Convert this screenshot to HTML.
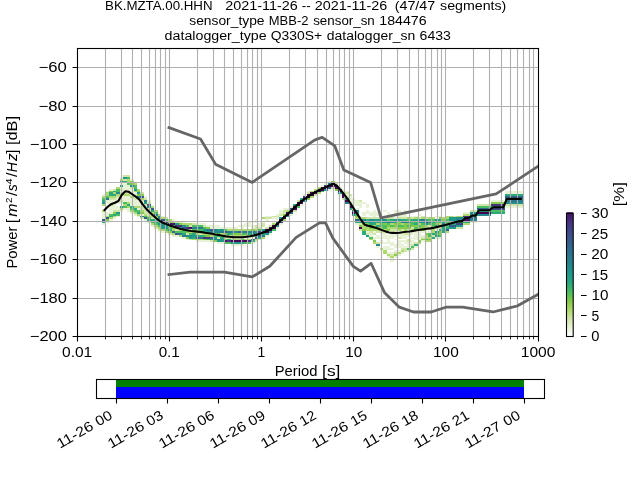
<!DOCTYPE html>
<html><head><meta charset="utf-8"><title>PPSD</title>
<style>html,body{margin:0;padding:0;background:#fff;}body{width:640px;height:480px;overflow:hidden;font-family:"Liberation Sans",sans-serif;}svg{display:block;will-change:transform;}</style>
</head><body>
<svg width="640" height="480" viewBox="0 0 640 480" font-family="'Liberation Sans', sans-serif" font-size="13.89px" fill="#000">
<rect x="0" y="0" width="640" height="480" fill="#fff"/>
<defs><clipPath id="ca"><rect x="77.5" y="48.5" width="461" height="288"/></clipPath></defs>
<g shape-rendering="crispEdges" clip-path="url(#ca)">
<rect x="102" y="194" width="4" height="2" fill="#e8f2d7"/>
<rect x="102" y="196" width="4" height="2" fill="#aed96f"/>
<rect x="102" y="198" width="4" height="2" fill="#4bbe60"/>
<rect x="102" y="200" width="4" height="2" fill="#2aa97d"/>
<rect x="102" y="202" width="4" height="2" fill="#1f9a8a"/>
<rect x="102" y="204" width="4" height="2" fill="#aed96f"/>
<rect x="102" y="210" width="4" height="2" fill="#aed96f"/>
<rect x="102" y="212" width="4" height="2" fill="#e8f2d7"/>
<rect x="102" y="214" width="4" height="2" fill="#e8f2d7"/>
<rect x="102" y="216" width="4" height="1" fill="#e8f2d7"/>
<rect x="102" y="217" width="4" height="2" fill="#e8f2d7"/>
<rect x="102" y="219" width="4" height="2" fill="#39598c"/>
<rect x="102" y="221" width="4" height="2" fill="#2aa97d"/>
<rect x="102" y="223" width="4" height="2" fill="#e8f2d7"/>
<rect x="106" y="191" width="3" height="1" fill="#e8f2d7"/>
<rect x="106" y="192" width="3" height="2" fill="#aed96f"/>
<rect x="106" y="194" width="3" height="2" fill="#aed96f"/>
<rect x="106" y="196" width="3" height="2" fill="#4bbe60"/>
<rect x="106" y="198" width="3" height="2" fill="#2a7a8e"/>
<rect x="106" y="200" width="3" height="2" fill="#e8f2d7"/>
<rect x="106" y="202" width="3" height="2" fill="#e8f2d7"/>
<rect x="106" y="206" width="3" height="2" fill="#e8f2d7"/>
<rect x="106" y="212" width="3" height="2" fill="#e8f2d7"/>
<rect x="106" y="214" width="3" height="2" fill="#e8f2d7"/>
<rect x="106" y="216" width="3" height="1" fill="#aed96f"/>
<rect x="106" y="217" width="3" height="2" fill="#39598c"/>
<rect x="106" y="219" width="3" height="2" fill="#84cb47"/>
<rect x="106" y="221" width="3" height="2" fill="#e8f2d7"/>
<rect x="109" y="189" width="4" height="2" fill="#e8f2d7"/>
<rect x="109" y="191" width="4" height="1" fill="#84cb47"/>
<rect x="109" y="192" width="4" height="2" fill="#2aa97d"/>
<rect x="109" y="194" width="4" height="2" fill="#2aa97d"/>
<rect x="109" y="196" width="4" height="2" fill="#aed96f"/>
<rect x="109" y="198" width="4" height="2" fill="#d0e5a7"/>
<rect x="109" y="200" width="4" height="2" fill="#e8f2d7"/>
<rect x="109" y="202" width="4" height="2" fill="#e8f2d7"/>
<rect x="109" y="204" width="4" height="2" fill="#aed96f"/>
<rect x="109" y="206" width="4" height="2" fill="#e8f2d7"/>
<rect x="109" y="208" width="4" height="2" fill="#e8f2d7"/>
<rect x="109" y="210" width="4" height="2" fill="#e8f2d7"/>
<rect x="109" y="212" width="4" height="2" fill="#e8f2d7"/>
<rect x="109" y="214" width="4" height="2" fill="#4bbe60"/>
<rect x="109" y="216" width="4" height="1" fill="#2aa97d"/>
<rect x="109" y="217" width="4" height="2" fill="#aed96f"/>
<rect x="109" y="219" width="4" height="2" fill="#e8f2d7"/>
<rect x="113" y="189" width="3" height="2" fill="#d0e5a7"/>
<rect x="113" y="191" width="3" height="1" fill="#2aa97d"/>
<rect x="113" y="192" width="3" height="2" fill="#aed96f"/>
<rect x="113" y="194" width="3" height="2" fill="#2aa97d"/>
<rect x="113" y="196" width="3" height="2" fill="#aed96f"/>
<rect x="113" y="198" width="3" height="2" fill="#d0e5a7"/>
<rect x="113" y="200" width="3" height="2" fill="#e8f2d7"/>
<rect x="113" y="202" width="3" height="2" fill="#e8f2d7"/>
<rect x="113" y="204" width="3" height="2" fill="#e8f2d7"/>
<rect x="113" y="206" width="3" height="2" fill="#e8f2d7"/>
<rect x="113" y="208" width="3" height="2" fill="#e8f2d7"/>
<rect x="113" y="210" width="3" height="2" fill="#d0e5a7"/>
<rect x="113" y="212" width="3" height="2" fill="#84cb47"/>
<rect x="113" y="214" width="3" height="2" fill="#2aa97d"/>
<rect x="113" y="216" width="3" height="1" fill="#aed96f"/>
<rect x="113" y="217" width="3" height="2" fill="#e8f2d7"/>
<rect x="116" y="187" width="4" height="2" fill="#aed96f"/>
<rect x="116" y="189" width="4" height="2" fill="#4bbe60"/>
<rect x="116" y="191" width="4" height="1" fill="#4bbe60"/>
<rect x="116" y="192" width="4" height="2" fill="#238a8d"/>
<rect x="116" y="194" width="4" height="2" fill="#aed96f"/>
<rect x="116" y="196" width="4" height="2" fill="#d0e5a7"/>
<rect x="116" y="198" width="4" height="2" fill="#e8f2d7"/>
<rect x="116" y="200" width="4" height="2" fill="#e8f2d7"/>
<rect x="116" y="202" width="4" height="2" fill="#e8f2d7"/>
<rect x="116" y="206" width="4" height="2" fill="#e8f2d7"/>
<rect x="116" y="208" width="4" height="2" fill="#e8f2d7"/>
<rect x="116" y="210" width="4" height="2" fill="#d0e5a7"/>
<rect x="116" y="212" width="4" height="2" fill="#1f9a8a"/>
<rect x="116" y="214" width="4" height="2" fill="#4bbe60"/>
<rect x="116" y="216" width="4" height="1" fill="#e8f2d7"/>
<rect x="120" y="177" width="3" height="2" fill="#e8f2d7"/>
<rect x="120" y="179" width="3" height="2" fill="#aed96f"/>
<rect x="120" y="181" width="3" height="2" fill="#1f9a8a"/>
<rect x="120" y="183" width="3" height="2" fill="#e8f2d7"/>
<rect x="120" y="185" width="3" height="2" fill="#1f9a8a"/>
<rect x="120" y="187" width="3" height="2" fill="#e8f2d7"/>
<rect x="120" y="189" width="3" height="2" fill="#d0e5a7"/>
<rect x="120" y="191" width="3" height="1" fill="#e8f2d7"/>
<rect x="120" y="192" width="3" height="2" fill="#d0e5a7"/>
<rect x="120" y="194" width="3" height="2" fill="#aed96f"/>
<rect x="120" y="196" width="3" height="2" fill="#e8f2d7"/>
<rect x="120" y="198" width="3" height="2" fill="#e8f2d7"/>
<rect x="120" y="200" width="3" height="2" fill="#d0e5a7"/>
<rect x="120" y="202" width="3" height="2" fill="#e8f2d7"/>
<rect x="120" y="206" width="3" height="2" fill="#1f9a8a"/>
<rect x="120" y="208" width="3" height="2" fill="#aed96f"/>
<rect x="120" y="210" width="3" height="2" fill="#e8f2d7"/>
<rect x="123" y="175" width="4" height="2" fill="#d0e5a7"/>
<rect x="123" y="177" width="4" height="2" fill="#1f9a8a"/>
<rect x="123" y="179" width="4" height="2" fill="#d0e5a7"/>
<rect x="123" y="181" width="4" height="2" fill="#2aa97d"/>
<rect x="123" y="183" width="4" height="2" fill="#e8f2d7"/>
<rect x="123" y="185" width="4" height="2" fill="#e8f2d7"/>
<rect x="123" y="187" width="4" height="2" fill="#e8f2d7"/>
<rect x="123" y="189" width="4" height="2" fill="#e8f2d7"/>
<rect x="123" y="191" width="4" height="1" fill="#e8f2d7"/>
<rect x="123" y="192" width="4" height="2" fill="#d0e5a7"/>
<rect x="123" y="194" width="4" height="2" fill="#aed96f"/>
<rect x="123" y="196" width="4" height="2" fill="#e8f2d7"/>
<rect x="123" y="198" width="4" height="2" fill="#e8f2d7"/>
<rect x="123" y="200" width="4" height="2" fill="#e8f2d7"/>
<rect x="123" y="202" width="4" height="2" fill="#4bbe60"/>
<rect x="123" y="204" width="4" height="2" fill="#aed96f"/>
<rect x="123" y="206" width="4" height="2" fill="#4bbe60"/>
<rect x="123" y="208" width="4" height="2" fill="#e8f2d7"/>
<rect x="127" y="175" width="3" height="2" fill="#d0e5a7"/>
<rect x="127" y="177" width="3" height="2" fill="#4bbe60"/>
<rect x="127" y="179" width="3" height="2" fill="#aed96f"/>
<rect x="127" y="181" width="3" height="2" fill="#aed96f"/>
<rect x="127" y="183" width="3" height="2" fill="#4bbe60"/>
<rect x="127" y="185" width="3" height="2" fill="#e8f2d7"/>
<rect x="127" y="187" width="3" height="2" fill="#e8f2d7"/>
<rect x="127" y="189" width="3" height="2" fill="#e8f2d7"/>
<rect x="127" y="191" width="3" height="1" fill="#e8f2d7"/>
<rect x="127" y="192" width="3" height="2" fill="#d0e5a7"/>
<rect x="127" y="194" width="3" height="2" fill="#aed96f"/>
<rect x="127" y="196" width="3" height="2" fill="#e8f2d7"/>
<rect x="127" y="198" width="3" height="2" fill="#e8f2d7"/>
<rect x="127" y="200" width="3" height="2" fill="#e8f2d7"/>
<rect x="127" y="202" width="3" height="2" fill="#aed96f"/>
<rect x="127" y="204" width="3" height="2" fill="#2aa97d"/>
<rect x="127" y="206" width="3" height="2" fill="#aed96f"/>
<rect x="127" y="208" width="3" height="2" fill="#e8f2d7"/>
<rect x="127" y="210" width="3" height="2" fill="#e8f2d7"/>
<rect x="130" y="179" width="4" height="2" fill="#e8f2d7"/>
<rect x="130" y="181" width="4" height="2" fill="#84cb47"/>
<rect x="130" y="183" width="4" height="2" fill="#84cb47"/>
<rect x="130" y="185" width="4" height="2" fill="#238a8d"/>
<rect x="130" y="187" width="4" height="2" fill="#d0e5a7"/>
<rect x="130" y="189" width="4" height="2" fill="#e8f2d7"/>
<rect x="130" y="191" width="4" height="1" fill="#e8f2d7"/>
<rect x="130" y="192" width="4" height="2" fill="#e8f2d7"/>
<rect x="130" y="194" width="4" height="2" fill="#e8f2d7"/>
<rect x="130" y="196" width="4" height="2" fill="#aed96f"/>
<rect x="130" y="198" width="4" height="2" fill="#e8f2d7"/>
<rect x="130" y="200" width="4" height="2" fill="#e8f2d7"/>
<rect x="130" y="202" width="4" height="2" fill="#e8f2d7"/>
<rect x="130" y="204" width="4" height="2" fill="#e8f2d7"/>
<rect x="130" y="206" width="4" height="2" fill="#2aa97d"/>
<rect x="130" y="208" width="4" height="2" fill="#4bbe60"/>
<rect x="130" y="210" width="4" height="2" fill="#aed96f"/>
<rect x="130" y="212" width="4" height="2" fill="#e8f2d7"/>
<rect x="134" y="183" width="3" height="2" fill="#aed96f"/>
<rect x="134" y="185" width="3" height="2" fill="#4bbe60"/>
<rect x="134" y="187" width="3" height="2" fill="#4bbe60"/>
<rect x="134" y="189" width="3" height="2" fill="#1f9a8a"/>
<rect x="134" y="191" width="3" height="1" fill="#aed96f"/>
<rect x="134" y="192" width="3" height="2" fill="#e8f2d7"/>
<rect x="134" y="194" width="3" height="2" fill="#e8f2d7"/>
<rect x="134" y="196" width="3" height="2" fill="#e8f2d7"/>
<rect x="134" y="198" width="3" height="2" fill="#d0e5a7"/>
<rect x="134" y="200" width="3" height="2" fill="#e8f2d7"/>
<rect x="134" y="202" width="3" height="2" fill="#e8f2d7"/>
<rect x="134" y="204" width="3" height="2" fill="#e8f2d7"/>
<rect x="134" y="206" width="3" height="2" fill="#aed96f"/>
<rect x="134" y="208" width="3" height="2" fill="#2aa97d"/>
<rect x="134" y="210" width="3" height="2" fill="#4bbe60"/>
<rect x="134" y="212" width="3" height="2" fill="#aed96f"/>
<rect x="134" y="214" width="3" height="2" fill="#e8f2d7"/>
<rect x="137" y="189" width="3" height="2" fill="#aed96f"/>
<rect x="137" y="191" width="3" height="1" fill="#84cb47"/>
<rect x="137" y="192" width="3" height="2" fill="#1f9a8a"/>
<rect x="137" y="194" width="3" height="2" fill="#84cb47"/>
<rect x="137" y="196" width="3" height="2" fill="#238a8d"/>
<rect x="137" y="198" width="3" height="2" fill="#d0e5a7"/>
<rect x="137" y="200" width="3" height="2" fill="#e8f2d7"/>
<rect x="137" y="202" width="3" height="2" fill="#e8f2d7"/>
<rect x="137" y="204" width="3" height="2" fill="#e8f2d7"/>
<rect x="137" y="206" width="3" height="2" fill="#aed96f"/>
<rect x="137" y="208" width="3" height="2" fill="#e8f2d7"/>
<rect x="137" y="210" width="3" height="2" fill="#4bbe60"/>
<rect x="137" y="212" width="3" height="2" fill="#2aa97d"/>
<rect x="137" y="214" width="3" height="2" fill="#aed96f"/>
<rect x="137" y="216" width="3" height="1" fill="#e8f2d7"/>
<rect x="140" y="192" width="4" height="2" fill="#d0e5a7"/>
<rect x="140" y="194" width="4" height="2" fill="#84cb47"/>
<rect x="140" y="196" width="4" height="2" fill="#39598c"/>
<rect x="140" y="198" width="4" height="2" fill="#aed96f"/>
<rect x="140" y="200" width="4" height="2" fill="#d0e5a7"/>
<rect x="140" y="202" width="4" height="2" fill="#e8f2d7"/>
<rect x="140" y="204" width="4" height="2" fill="#e8f2d7"/>
<rect x="140" y="206" width="4" height="2" fill="#d0e5a7"/>
<rect x="140" y="208" width="4" height="2" fill="#d0e5a7"/>
<rect x="140" y="210" width="4" height="2" fill="#aed96f"/>
<rect x="140" y="212" width="4" height="2" fill="#84cb47"/>
<rect x="140" y="214" width="4" height="2" fill="#e8f2d7"/>
<rect x="140" y="216" width="4" height="1" fill="#2a7a8e"/>
<rect x="140" y="217" width="4" height="2" fill="#d0e5a7"/>
<rect x="144" y="196" width="3" height="2" fill="#e8f2d7"/>
<rect x="144" y="198" width="3" height="2" fill="#d0e5a7"/>
<rect x="144" y="200" width="3" height="2" fill="#2a7a8e"/>
<rect x="144" y="202" width="3" height="2" fill="#1f9a8a"/>
<rect x="144" y="204" width="3" height="2" fill="#d0e5a7"/>
<rect x="144" y="206" width="3" height="2" fill="#e8f2d7"/>
<rect x="144" y="208" width="3" height="2" fill="#d0e5a7"/>
<rect x="144" y="210" width="3" height="2" fill="#d0e5a7"/>
<rect x="144" y="212" width="3" height="2" fill="#d0e5a7"/>
<rect x="144" y="214" width="3" height="2" fill="#aed96f"/>
<rect x="144" y="216" width="3" height="1" fill="#4bbe60"/>
<rect x="144" y="217" width="3" height="2" fill="#39598c"/>
<rect x="144" y="219" width="3" height="2" fill="#e8f2d7"/>
<rect x="147" y="200" width="4" height="2" fill="#e8f2d7"/>
<rect x="147" y="202" width="4" height="2" fill="#d0e5a7"/>
<rect x="147" y="204" width="4" height="2" fill="#39598c"/>
<rect x="147" y="206" width="4" height="2" fill="#238a8d"/>
<rect x="147" y="208" width="4" height="2" fill="#d0e5a7"/>
<rect x="147" y="210" width="4" height="2" fill="#d0e5a7"/>
<rect x="147" y="212" width="4" height="2" fill="#d0e5a7"/>
<rect x="147" y="214" width="4" height="2" fill="#d0e5a7"/>
<rect x="147" y="216" width="4" height="1" fill="#aed96f"/>
<rect x="147" y="217" width="4" height="2" fill="#4bbe60"/>
<rect x="147" y="219" width="4" height="2" fill="#2aa97d"/>
<rect x="147" y="221" width="4" height="2" fill="#e8f2d7"/>
<rect x="151" y="206" width="3" height="2" fill="#aed96f"/>
<rect x="151" y="208" width="3" height="2" fill="#39598c"/>
<rect x="151" y="210" width="3" height="2" fill="#2aa97d"/>
<rect x="151" y="212" width="3" height="2" fill="#aed96f"/>
<rect x="151" y="214" width="3" height="2" fill="#aed96f"/>
<rect x="151" y="216" width="3" height="1" fill="#aed96f"/>
<rect x="151" y="217" width="3" height="2" fill="#d0e5a7"/>
<rect x="151" y="219" width="3" height="2" fill="#2aa97d"/>
<rect x="151" y="221" width="3" height="2" fill="#4bbe60"/>
<rect x="151" y="223" width="3" height="2" fill="#aed96f"/>
<rect x="151" y="225" width="3" height="2" fill="#e8f2d7"/>
<rect x="154" y="210" width="4" height="2" fill="#aed96f"/>
<rect x="154" y="212" width="4" height="2" fill="#4bbe60"/>
<rect x="154" y="214" width="4" height="2" fill="#2a7a8e"/>
<rect x="154" y="216" width="4" height="1" fill="#84cb47"/>
<rect x="154" y="217" width="4" height="2" fill="#aed96f"/>
<rect x="154" y="219" width="4" height="2" fill="#2aa97d"/>
<rect x="154" y="221" width="4" height="2" fill="#2aa97d"/>
<rect x="154" y="223" width="4" height="2" fill="#4bbe60"/>
<rect x="154" y="225" width="4" height="2" fill="#aed96f"/>
<rect x="154" y="227" width="4" height="2" fill="#d0e5a7"/>
<rect x="158" y="214" width="3" height="2" fill="#aed96f"/>
<rect x="158" y="216" width="3" height="1" fill="#238a8d"/>
<rect x="158" y="217" width="3" height="2" fill="#238a8d"/>
<rect x="158" y="219" width="3" height="2" fill="#84cb47"/>
<rect x="158" y="221" width="3" height="2" fill="#4bbe60"/>
<rect x="158" y="223" width="3" height="2" fill="#1f9a8a"/>
<rect x="158" y="225" width="3" height="2" fill="#4bbe60"/>
<rect x="158" y="227" width="3" height="2" fill="#aed96f"/>
<rect x="158" y="229" width="3" height="2" fill="#d0e5a7"/>
<rect x="161" y="216" width="4" height="1" fill="#e8f2d7"/>
<rect x="161" y="217" width="4" height="2" fill="#aed96f"/>
<rect x="161" y="219" width="4" height="2" fill="#39598c"/>
<rect x="161" y="221" width="4" height="2" fill="#4bbe60"/>
<rect x="161" y="223" width="4" height="2" fill="#1f9a8a"/>
<rect x="161" y="225" width="4" height="2" fill="#1f9a8a"/>
<rect x="161" y="227" width="4" height="2" fill="#1f9a8a"/>
<rect x="161" y="229" width="4" height="2" fill="#aed96f"/>
<rect x="161" y="231" width="4" height="2" fill="#e8f2d7"/>
<rect x="165" y="217" width="3" height="2" fill="#d0e5a7"/>
<rect x="165" y="219" width="3" height="2" fill="#4bbe60"/>
<rect x="165" y="221" width="3" height="2" fill="#404788"/>
<rect x="165" y="223" width="3" height="2" fill="#84cb47"/>
<rect x="165" y="225" width="3" height="2" fill="#1f9a8a"/>
<rect x="165" y="227" width="3" height="2" fill="#1f9a8a"/>
<rect x="165" y="229" width="3" height="2" fill="#4bbe60"/>
<rect x="165" y="231" width="3" height="2" fill="#aed96f"/>
<rect x="168" y="219" width="4" height="2" fill="#aed96f"/>
<rect x="168" y="221" width="4" height="2" fill="#84cb47"/>
<rect x="168" y="223" width="4" height="2" fill="#471365"/>
<rect x="168" y="225" width="4" height="2" fill="#84cb47"/>
<rect x="168" y="227" width="4" height="2" fill="#4bbe60"/>
<rect x="168" y="229" width="4" height="2" fill="#2aa97d"/>
<rect x="168" y="231" width="4" height="2" fill="#84cb47"/>
<rect x="168" y="233" width="4" height="2" fill="#d0e5a7"/>
<rect x="172" y="219" width="3" height="2" fill="#e8f2d7"/>
<rect x="172" y="221" width="3" height="2" fill="#aed96f"/>
<rect x="172" y="223" width="3" height="2" fill="#471365"/>
<rect x="172" y="225" width="3" height="2" fill="#4bbe60"/>
<rect x="172" y="227" width="3" height="2" fill="#84cb47"/>
<rect x="172" y="229" width="3" height="2" fill="#aed96f"/>
<rect x="172" y="231" width="3" height="2" fill="#316a8e"/>
<rect x="172" y="233" width="3" height="2" fill="#aed96f"/>
<rect x="172" y="235" width="3" height="2" fill="#e8f2d7"/>
<rect x="175" y="221" width="4" height="2" fill="#d0e5a7"/>
<rect x="175" y="223" width="4" height="2" fill="#1f9a8a"/>
<rect x="175" y="225" width="4" height="2" fill="#46327e"/>
<rect x="175" y="227" width="4" height="2" fill="#84cb47"/>
<rect x="175" y="229" width="4" height="2" fill="#d0e5a7"/>
<rect x="175" y="231" width="4" height="2" fill="#4bbe60"/>
<rect x="175" y="233" width="4" height="2" fill="#39598c"/>
<rect x="175" y="235" width="4" height="2" fill="#e8f2d7"/>
<rect x="179" y="221" width="3" height="2" fill="#d0e5a7"/>
<rect x="179" y="223" width="3" height="2" fill="#84cb47"/>
<rect x="179" y="225" width="3" height="2" fill="#46327e"/>
<rect x="179" y="227" width="3" height="2" fill="#1f9a8a"/>
<rect x="179" y="229" width="3" height="2" fill="#aed96f"/>
<rect x="179" y="231" width="3" height="2" fill="#4bbe60"/>
<rect x="179" y="233" width="3" height="2" fill="#2a7a8e"/>
<rect x="179" y="235" width="3" height="2" fill="#aed96f"/>
<rect x="182" y="221" width="4" height="2" fill="#e8f2d7"/>
<rect x="182" y="223" width="4" height="2" fill="#aed96f"/>
<rect x="182" y="225" width="4" height="2" fill="#238a8d"/>
<rect x="182" y="227" width="4" height="2" fill="#39598c"/>
<rect x="182" y="229" width="4" height="2" fill="#84cb47"/>
<rect x="182" y="231" width="4" height="2" fill="#4bbe60"/>
<rect x="182" y="233" width="4" height="2" fill="#2aa97d"/>
<rect x="182" y="235" width="4" height="2" fill="#2a7a8e"/>
<rect x="182" y="237" width="4" height="2" fill="#e8f2d7"/>
<rect x="186" y="223" width="3" height="2" fill="#aed96f"/>
<rect x="186" y="225" width="3" height="2" fill="#4bbe60"/>
<rect x="186" y="227" width="3" height="2" fill="#46327e"/>
<rect x="186" y="229" width="3" height="2" fill="#2aa97d"/>
<rect x="186" y="231" width="3" height="2" fill="#84cb47"/>
<rect x="186" y="233" width="3" height="2" fill="#d0e5a7"/>
<rect x="186" y="235" width="3" height="2" fill="#238a8d"/>
<rect x="186" y="237" width="3" height="2" fill="#84cb47"/>
<rect x="186" y="239" width="3" height="1" fill="#e8f2d7"/>
<rect x="189" y="223" width="3" height="2" fill="#aed96f"/>
<rect x="189" y="225" width="3" height="2" fill="#d0e5a7"/>
<rect x="189" y="227" width="3" height="2" fill="#471365"/>
<rect x="189" y="229" width="3" height="2" fill="#d0e5a7"/>
<rect x="189" y="231" width="3" height="2" fill="#aed96f"/>
<rect x="189" y="233" width="3" height="2" fill="#4bbe60"/>
<rect x="189" y="235" width="3" height="2" fill="#238a8d"/>
<rect x="189" y="237" width="3" height="2" fill="#1f9a8a"/>
<rect x="189" y="239" width="3" height="1" fill="#d0e5a7"/>
<rect x="192" y="223" width="4" height="2" fill="#d0e5a7"/>
<rect x="192" y="225" width="4" height="2" fill="#4bbe60"/>
<rect x="192" y="227" width="4" height="2" fill="#2a7a8e"/>
<rect x="192" y="229" width="4" height="2" fill="#4bbe60"/>
<rect x="192" y="231" width="4" height="2" fill="#aed96f"/>
<rect x="192" y="233" width="4" height="2" fill="#2aa97d"/>
<rect x="192" y="235" width="4" height="2" fill="#1f9a8a"/>
<rect x="192" y="237" width="4" height="2" fill="#2aa97d"/>
<rect x="192" y="239" width="4" height="1" fill="#aed96f"/>
<rect x="196" y="223" width="3" height="2" fill="#e8f2d7"/>
<rect x="196" y="225" width="3" height="2" fill="#4bbe60"/>
<rect x="196" y="227" width="3" height="2" fill="#2a7a8e"/>
<rect x="196" y="229" width="3" height="2" fill="#4bbe60"/>
<rect x="196" y="231" width="3" height="2" fill="#84cb47"/>
<rect x="196" y="233" width="3" height="2" fill="#aed96f"/>
<rect x="196" y="235" width="3" height="2" fill="#2aa97d"/>
<rect x="196" y="237" width="3" height="2" fill="#39598c"/>
<rect x="196" y="239" width="3" height="1" fill="#aed96f"/>
<rect x="196" y="240" width="3" height="2" fill="#e8f2d7"/>
<rect x="199" y="223" width="4" height="2" fill="#e8f2d7"/>
<rect x="199" y="225" width="4" height="2" fill="#4bbe60"/>
<rect x="199" y="227" width="4" height="2" fill="#2a7a8e"/>
<rect x="199" y="229" width="4" height="2" fill="#4bbe60"/>
<rect x="199" y="231" width="4" height="2" fill="#4bbe60"/>
<rect x="199" y="233" width="4" height="2" fill="#d0e5a7"/>
<rect x="199" y="235" width="4" height="2" fill="#2aa97d"/>
<rect x="199" y="237" width="4" height="2" fill="#316a8e"/>
<rect x="199" y="239" width="4" height="1" fill="#aed96f"/>
<rect x="199" y="240" width="4" height="2" fill="#e8f2d7"/>
<rect x="203" y="223" width="3" height="2" fill="#e8f2d7"/>
<rect x="203" y="225" width="3" height="2" fill="#d0e5a7"/>
<rect x="203" y="227" width="3" height="2" fill="#4bbe60"/>
<rect x="203" y="229" width="3" height="2" fill="#1f9a8a"/>
<rect x="203" y="231" width="3" height="2" fill="#1f9a8a"/>
<rect x="203" y="233" width="3" height="2" fill="#aed96f"/>
<rect x="203" y="235" width="3" height="2" fill="#4bbe60"/>
<rect x="203" y="237" width="3" height="2" fill="#46327e"/>
<rect x="203" y="239" width="3" height="1" fill="#84cb47"/>
<rect x="203" y="240" width="3" height="2" fill="#e8f2d7"/>
<rect x="206" y="225" width="4" height="2" fill="#e8f2d7"/>
<rect x="206" y="227" width="4" height="2" fill="#84cb47"/>
<rect x="206" y="229" width="4" height="2" fill="#2a7a8e"/>
<rect x="206" y="231" width="4" height="2" fill="#1f9a8a"/>
<rect x="206" y="233" width="4" height="2" fill="#aed96f"/>
<rect x="206" y="235" width="4" height="2" fill="#84cb47"/>
<rect x="206" y="237" width="4" height="2" fill="#46327e"/>
<rect x="206" y="239" width="4" height="1" fill="#4bbe60"/>
<rect x="206" y="240" width="4" height="2" fill="#e8f2d7"/>
<rect x="210" y="225" width="3" height="2" fill="#e8f2d7"/>
<rect x="210" y="227" width="3" height="2" fill="#e8f2d7"/>
<rect x="210" y="229" width="3" height="2" fill="#39598c"/>
<rect x="210" y="231" width="3" height="2" fill="#238a8d"/>
<rect x="210" y="233" width="3" height="2" fill="#aed96f"/>
<rect x="210" y="235" width="3" height="2" fill="#aed96f"/>
<rect x="210" y="237" width="3" height="2" fill="#316a8e"/>
<rect x="210" y="239" width="3" height="1" fill="#1f9a8a"/>
<rect x="210" y="240" width="3" height="2" fill="#d0e5a7"/>
<rect x="213" y="225" width="4" height="2" fill="#e8f2d7"/>
<rect x="213" y="227" width="4" height="2" fill="#e8f2d7"/>
<rect x="213" y="229" width="4" height="2" fill="#2a7a8e"/>
<rect x="213" y="231" width="4" height="2" fill="#238a8d"/>
<rect x="213" y="233" width="4" height="2" fill="#aed96f"/>
<rect x="213" y="235" width="4" height="2" fill="#4bbe60"/>
<rect x="213" y="237" width="4" height="2" fill="#1f9a8a"/>
<rect x="213" y="239" width="4" height="1" fill="#238a8d"/>
<rect x="213" y="240" width="4" height="2" fill="#84cb47"/>
<rect x="217" y="225" width="3" height="2" fill="#e8f2d7"/>
<rect x="217" y="227" width="3" height="2" fill="#e8f2d7"/>
<rect x="217" y="229" width="3" height="2" fill="#1f9a8a"/>
<rect x="217" y="231" width="3" height="2" fill="#238a8d"/>
<rect x="217" y="233" width="3" height="2" fill="#4bbe60"/>
<rect x="217" y="235" width="3" height="2" fill="#2aa97d"/>
<rect x="217" y="237" width="3" height="2" fill="#d0e5a7"/>
<rect x="217" y="239" width="3" height="1" fill="#238a8d"/>
<rect x="217" y="240" width="3" height="2" fill="#1f9a8a"/>
<rect x="217" y="242" width="3" height="2" fill="#e8f2d7"/>
<rect x="220" y="227" width="4" height="2" fill="#e8f2d7"/>
<rect x="220" y="229" width="4" height="2" fill="#1f9a8a"/>
<rect x="220" y="231" width="4" height="2" fill="#2a7a8e"/>
<rect x="220" y="233" width="4" height="2" fill="#aed96f"/>
<rect x="220" y="235" width="4" height="2" fill="#84cb47"/>
<rect x="220" y="237" width="4" height="2" fill="#2aa97d"/>
<rect x="220" y="239" width="4" height="1" fill="#1f9a8a"/>
<rect x="220" y="240" width="4" height="2" fill="#1f9a8a"/>
<rect x="220" y="242" width="4" height="2" fill="#e8f2d7"/>
<rect x="224" y="227" width="3" height="2" fill="#e8f2d7"/>
<rect x="224" y="229" width="3" height="2" fill="#4bbe60"/>
<rect x="224" y="231" width="3" height="2" fill="#39598c"/>
<rect x="224" y="233" width="3" height="2" fill="#84cb47"/>
<rect x="224" y="235" width="3" height="2" fill="#aed96f"/>
<rect x="224" y="237" width="3" height="2" fill="#d0e5a7"/>
<rect x="224" y="239" width="3" height="1" fill="#84cb47"/>
<rect x="224" y="240" width="3" height="2" fill="#471365"/>
<rect x="224" y="242" width="3" height="2" fill="#4bbe60"/>
<rect x="227" y="227" width="4" height="2" fill="#e8f2d7"/>
<rect x="227" y="229" width="4" height="2" fill="#aed96f"/>
<rect x="227" y="231" width="4" height="2" fill="#2a7a8e"/>
<rect x="227" y="233" width="4" height="2" fill="#2aa97d"/>
<rect x="227" y="235" width="4" height="2" fill="#aed96f"/>
<rect x="227" y="237" width="4" height="2" fill="#d0e5a7"/>
<rect x="227" y="239" width="4" height="1" fill="#2aa97d"/>
<rect x="227" y="240" width="4" height="2" fill="#46327e"/>
<rect x="227" y="242" width="4" height="2" fill="#4bbe60"/>
<rect x="231" y="227" width="3" height="2" fill="#e8f2d7"/>
<rect x="231" y="229" width="3" height="2" fill="#aed96f"/>
<rect x="231" y="231" width="3" height="2" fill="#2a7a8e"/>
<rect x="231" y="233" width="3" height="2" fill="#4bbe60"/>
<rect x="231" y="235" width="3" height="2" fill="#aed96f"/>
<rect x="231" y="237" width="3" height="2" fill="#e8f2d7"/>
<rect x="231" y="239" width="3" height="1" fill="#aed96f"/>
<rect x="231" y="240" width="3" height="2" fill="#440154"/>
<rect x="231" y="242" width="3" height="2" fill="#1f9a8a"/>
<rect x="231" y="244" width="3" height="2" fill="#e8f2d7"/>
<rect x="234" y="227" width="4" height="2" fill="#e8f2d7"/>
<rect x="234" y="229" width="4" height="2" fill="#aed96f"/>
<rect x="234" y="231" width="4" height="2" fill="#238a8d"/>
<rect x="234" y="233" width="4" height="2" fill="#84cb47"/>
<rect x="234" y="235" width="4" height="2" fill="#aed96f"/>
<rect x="234" y="237" width="4" height="2" fill="#e8f2d7"/>
<rect x="234" y="239" width="4" height="1" fill="#aed96f"/>
<rect x="234" y="240" width="4" height="2" fill="#440154"/>
<rect x="234" y="242" width="4" height="2" fill="#1f9a8a"/>
<rect x="234" y="244" width="4" height="2" fill="#e8f2d7"/>
<rect x="238" y="225" width="3" height="2" fill="#e8f2d7"/>
<rect x="238" y="229" width="3" height="2" fill="#aed96f"/>
<rect x="238" y="231" width="3" height="2" fill="#316a8e"/>
<rect x="238" y="233" width="3" height="2" fill="#84cb47"/>
<rect x="238" y="235" width="3" height="2" fill="#aed96f"/>
<rect x="238" y="237" width="3" height="2" fill="#e8f2d7"/>
<rect x="238" y="239" width="3" height="1" fill="#aed96f"/>
<rect x="238" y="240" width="3" height="2" fill="#440154"/>
<rect x="238" y="242" width="3" height="2" fill="#1f9a8a"/>
<rect x="238" y="244" width="3" height="2" fill="#e8f2d7"/>
<rect x="241" y="225" width="3" height="2" fill="#e8f2d7"/>
<rect x="241" y="227" width="3" height="2" fill="#e8f2d7"/>
<rect x="241" y="229" width="3" height="2" fill="#aed96f"/>
<rect x="241" y="231" width="3" height="2" fill="#238a8d"/>
<rect x="241" y="233" width="3" height="2" fill="#4bbe60"/>
<rect x="241" y="235" width="3" height="2" fill="#aed96f"/>
<rect x="241" y="237" width="3" height="2" fill="#e8f2d7"/>
<rect x="241" y="239" width="3" height="1" fill="#4bbe60"/>
<rect x="241" y="240" width="3" height="2" fill="#471365"/>
<rect x="241" y="242" width="3" height="2" fill="#2aa97d"/>
<rect x="241" y="244" width="3" height="2" fill="#e8f2d7"/>
<rect x="244" y="223" width="4" height="2" fill="#e8f2d7"/>
<rect x="244" y="225" width="4" height="2" fill="#e8f2d7"/>
<rect x="244" y="229" width="4" height="2" fill="#aed96f"/>
<rect x="244" y="231" width="4" height="2" fill="#2a7a8e"/>
<rect x="244" y="233" width="4" height="2" fill="#4bbe60"/>
<rect x="244" y="235" width="4" height="2" fill="#aed96f"/>
<rect x="244" y="237" width="4" height="2" fill="#e8f2d7"/>
<rect x="244" y="239" width="4" height="1" fill="#aed96f"/>
<rect x="244" y="240" width="4" height="2" fill="#440154"/>
<rect x="244" y="242" width="4" height="2" fill="#4bbe60"/>
<rect x="248" y="221" width="3" height="2" fill="#e8f2d7"/>
<rect x="248" y="223" width="3" height="2" fill="#e8f2d7"/>
<rect x="248" y="225" width="3" height="2" fill="#e8f2d7"/>
<rect x="248" y="229" width="3" height="2" fill="#aed96f"/>
<rect x="248" y="231" width="3" height="2" fill="#238a8d"/>
<rect x="248" y="233" width="3" height="2" fill="#2aa97d"/>
<rect x="248" y="235" width="3" height="2" fill="#aed96f"/>
<rect x="248" y="237" width="3" height="2" fill="#e8f2d7"/>
<rect x="248" y="239" width="3" height="1" fill="#aed96f"/>
<rect x="248" y="240" width="3" height="2" fill="#46327e"/>
<rect x="248" y="242" width="3" height="2" fill="#4bbe60"/>
<rect x="251" y="221" width="4" height="2" fill="#e8f2d7"/>
<rect x="251" y="225" width="4" height="2" fill="#e8f2d7"/>
<rect x="251" y="227" width="4" height="2" fill="#e8f2d7"/>
<rect x="251" y="229" width="4" height="2" fill="#84cb47"/>
<rect x="251" y="231" width="4" height="2" fill="#2a7a8e"/>
<rect x="251" y="233" width="4" height="2" fill="#1f9a8a"/>
<rect x="251" y="235" width="4" height="2" fill="#84cb47"/>
<rect x="251" y="237" width="4" height="2" fill="#e8f2d7"/>
<rect x="251" y="239" width="4" height="1" fill="#316a8e"/>
<rect x="251" y="240" width="4" height="2" fill="#2aa97d"/>
<rect x="251" y="242" width="4" height="2" fill="#e8f2d7"/>
<rect x="255" y="219" width="3" height="2" fill="#e8f2d7"/>
<rect x="255" y="221" width="3" height="2" fill="#e8f2d7"/>
<rect x="255" y="225" width="3" height="2" fill="#d0e5a7"/>
<rect x="255" y="227" width="3" height="2" fill="#d0e5a7"/>
<rect x="255" y="229" width="3" height="2" fill="#aed96f"/>
<rect x="255" y="231" width="3" height="2" fill="#238a8d"/>
<rect x="255" y="233" width="3" height="2" fill="#2aa97d"/>
<rect x="255" y="235" width="3" height="2" fill="#2aa97d"/>
<rect x="255" y="237" width="3" height="2" fill="#39598c"/>
<rect x="255" y="239" width="3" height="1" fill="#aed96f"/>
<rect x="255" y="240" width="3" height="2" fill="#d0e5a7"/>
<rect x="258" y="223" width="4" height="2" fill="#e8f2d7"/>
<rect x="258" y="225" width="4" height="2" fill="#e8f2d7"/>
<rect x="258" y="227" width="4" height="2" fill="#d0e5a7"/>
<rect x="258" y="229" width="4" height="2" fill="#4bbe60"/>
<rect x="258" y="231" width="4" height="2" fill="#404788"/>
<rect x="258" y="233" width="4" height="2" fill="#4bbe60"/>
<rect x="258" y="235" width="4" height="2" fill="#316a8e"/>
<rect x="258" y="237" width="4" height="2" fill="#2aa97d"/>
<rect x="258" y="239" width="4" height="1" fill="#d0e5a7"/>
<rect x="262" y="217" width="3" height="2" fill="#aed96f"/>
<rect x="262" y="221" width="3" height="2" fill="#e8f2d7"/>
<rect x="262" y="223" width="3" height="2" fill="#d0e5a7"/>
<rect x="262" y="225" width="3" height="2" fill="#d0e5a7"/>
<rect x="262" y="229" width="3" height="2" fill="#1f9a8a"/>
<rect x="262" y="231" width="3" height="2" fill="#404788"/>
<rect x="262" y="233" width="3" height="2" fill="#2aa97d"/>
<rect x="262" y="235" width="3" height="2" fill="#2a7a8e"/>
<rect x="262" y="237" width="3" height="2" fill="#aed96f"/>
<rect x="265" y="235" width="4" height="2" fill="#e8f2d7"/>
<rect x="265" y="233" width="4" height="2" fill="#1f9a8a"/>
<rect x="265" y="231" width="4" height="2" fill="#440154"/>
<rect x="265" y="229" width="4" height="2" fill="#440154"/>
<rect x="265" y="227" width="4" height="2" fill="#d0e5a7"/>
<rect x="265" y="219" width="4" height="2" fill="#e8f2d7"/>
<rect x="265" y="217" width="4" height="2" fill="#d0e5a7"/>
<rect x="265" y="216" width="4" height="1" fill="#e8f2d7"/>
<rect x="269" y="233" width="3" height="2" fill="#e8f2d7"/>
<rect x="269" y="231" width="3" height="2" fill="#1f9a8a"/>
<rect x="269" y="229" width="3" height="2" fill="#440154"/>
<rect x="269" y="227" width="3" height="2" fill="#471365"/>
<rect x="269" y="225" width="3" height="2" fill="#d0e5a7"/>
<rect x="269" y="217" width="3" height="2" fill="#d0e5a7"/>
<rect x="269" y="216" width="3" height="1" fill="#e8f2d7"/>
<rect x="272" y="229" width="4" height="2" fill="#4bbe60"/>
<rect x="272" y="227" width="4" height="2" fill="#440154"/>
<rect x="272" y="225" width="4" height="2" fill="#440154"/>
<rect x="272" y="223" width="4" height="2" fill="#aed96f"/>
<rect x="272" y="221" width="4" height="2" fill="#e8f2d7"/>
<rect x="272" y="217" width="4" height="2" fill="#e8f2d7"/>
<rect x="272" y="216" width="4" height="1" fill="#d0e5a7"/>
<rect x="276" y="227" width="3" height="2" fill="#e8f2d7"/>
<rect x="276" y="225" width="3" height="2" fill="#238a8d"/>
<rect x="276" y="223" width="3" height="2" fill="#440154"/>
<rect x="276" y="221" width="3" height="2" fill="#316a8e"/>
<rect x="276" y="219" width="3" height="2" fill="#e8f2d7"/>
<rect x="276" y="217" width="3" height="2" fill="#e8f2d7"/>
<rect x="276" y="216" width="3" height="1" fill="#d0e5a7"/>
<rect x="276" y="214" width="3" height="2" fill="#e8f2d7"/>
<rect x="279" y="223" width="4" height="2" fill="#e8f2d7"/>
<rect x="279" y="221" width="4" height="2" fill="#404788"/>
<rect x="279" y="219" width="4" height="2" fill="#440154"/>
<rect x="279" y="217" width="4" height="2" fill="#1f9a8a"/>
<rect x="279" y="214" width="4" height="2" fill="#d0e5a7"/>
<rect x="279" y="212" width="4" height="2" fill="#e8f2d7"/>
<rect x="279" y="210" width="4" height="2" fill="#e8f2d7"/>
<rect x="283" y="219" width="3" height="2" fill="#aed96f"/>
<rect x="283" y="217" width="3" height="2" fill="#440154"/>
<rect x="283" y="216" width="3" height="1" fill="#440154"/>
<rect x="283" y="214" width="3" height="2" fill="#84cb47"/>
<rect x="283" y="212" width="3" height="2" fill="#d0e5a7"/>
<rect x="283" y="210" width="3" height="2" fill="#d0e5a7"/>
<rect x="283" y="208" width="3" height="2" fill="#e8f2d7"/>
<rect x="286" y="216" width="4" height="1" fill="#1f9a8a"/>
<rect x="286" y="214" width="4" height="2" fill="#440154"/>
<rect x="286" y="212" width="4" height="2" fill="#471365"/>
<rect x="286" y="210" width="4" height="2" fill="#aed96f"/>
<rect x="286" y="208" width="4" height="2" fill="#e8f2d7"/>
<rect x="290" y="214" width="3" height="2" fill="#e8f2d7"/>
<rect x="290" y="212" width="3" height="2" fill="#316a8e"/>
<rect x="290" y="210" width="3" height="2" fill="#440154"/>
<rect x="290" y="208" width="3" height="2" fill="#39598c"/>
<rect x="290" y="206" width="3" height="2" fill="#e8f2d7"/>
<rect x="293" y="210" width="4" height="2" fill="#d0e5a7"/>
<rect x="293" y="208" width="4" height="2" fill="#440154"/>
<rect x="293" y="206" width="4" height="2" fill="#440154"/>
<rect x="293" y="204" width="4" height="2" fill="#2aa97d"/>
<rect x="297" y="206" width="3" height="2" fill="#4bbe60"/>
<rect x="297" y="204" width="3" height="2" fill="#440154"/>
<rect x="297" y="202" width="3" height="2" fill="#440154"/>
<rect x="297" y="200" width="3" height="2" fill="#d0e5a7"/>
<rect x="300" y="204" width="3" height="2" fill="#e8f2d7"/>
<rect x="300" y="202" width="3" height="2" fill="#471365"/>
<rect x="300" y="200" width="3" height="2" fill="#440154"/>
<rect x="300" y="198" width="3" height="2" fill="#2aa97d"/>
<rect x="303" y="200" width="4" height="2" fill="#238a8d"/>
<rect x="303" y="198" width="4" height="2" fill="#440154"/>
<rect x="303" y="196" width="4" height="2" fill="#46327e"/>
<rect x="303" y="194" width="4" height="2" fill="#e8f2d7"/>
<rect x="307" y="198" width="3" height="2" fill="#84cb47"/>
<rect x="307" y="196" width="3" height="2" fill="#440154"/>
<rect x="307" y="194" width="3" height="2" fill="#440154"/>
<rect x="307" y="192" width="3" height="2" fill="#d0e5a7"/>
<rect x="307" y="191" width="3" height="1" fill="#e8f2d7"/>
<rect x="310" y="196" width="4" height="2" fill="#aed96f"/>
<rect x="310" y="194" width="4" height="2" fill="#440154"/>
<rect x="310" y="192" width="4" height="2" fill="#440154"/>
<rect x="310" y="191" width="4" height="1" fill="#aed96f"/>
<rect x="314" y="194" width="3" height="2" fill="#d0e5a7"/>
<rect x="314" y="192" width="3" height="2" fill="#440154"/>
<rect x="314" y="191" width="3" height="1" fill="#440154"/>
<rect x="314" y="189" width="3" height="2" fill="#aed96f"/>
<rect x="317" y="192" width="4" height="2" fill="#aed96f"/>
<rect x="317" y="191" width="4" height="1" fill="#440154"/>
<rect x="317" y="189" width="4" height="2" fill="#440154"/>
<rect x="317" y="187" width="4" height="2" fill="#aed96f"/>
<rect x="321" y="191" width="3" height="1" fill="#4bbe60"/>
<rect x="321" y="189" width="3" height="2" fill="#440154"/>
<rect x="321" y="187" width="3" height="2" fill="#440154"/>
<rect x="321" y="185" width="3" height="2" fill="#e8f2d7"/>
<rect x="324" y="189" width="4" height="2" fill="#238a8d"/>
<rect x="324" y="187" width="4" height="2" fill="#440154"/>
<rect x="324" y="185" width="4" height="2" fill="#404788"/>
<rect x="324" y="183" width="4" height="2" fill="#e8f2d7"/>
<rect x="328" y="189" width="3" height="2" fill="#e8f2d7"/>
<rect x="328" y="187" width="3" height="2" fill="#39598c"/>
<rect x="328" y="185" width="3" height="2" fill="#440154"/>
<rect x="328" y="183" width="3" height="2" fill="#2a7a8e"/>
<rect x="328" y="181" width="3" height="2" fill="#e8f2d7"/>
<rect x="331" y="187" width="4" height="2" fill="#d0e5a7"/>
<rect x="331" y="185" width="4" height="2" fill="#440154"/>
<rect x="331" y="183" width="4" height="2" fill="#440154"/>
<rect x="331" y="181" width="4" height="2" fill="#84cb47"/>
<rect x="335" y="189" width="3" height="2" fill="#84cb47"/>
<rect x="335" y="187" width="3" height="2" fill="#440154"/>
<rect x="335" y="185" width="3" height="2" fill="#440154"/>
<rect x="335" y="183" width="3" height="2" fill="#d0e5a7"/>
<rect x="338" y="194" width="4" height="2" fill="#e8f2d7"/>
<rect x="338" y="192" width="4" height="2" fill="#238a8d"/>
<rect x="338" y="191" width="4" height="1" fill="#440154"/>
<rect x="338" y="189" width="4" height="2" fill="#46327e"/>
<rect x="338" y="187" width="4" height="2" fill="#e8f2d7"/>
<rect x="342" y="198" width="3" height="2" fill="#d0e5a7"/>
<rect x="342" y="196" width="3" height="2" fill="#440154"/>
<rect x="342" y="194" width="3" height="2" fill="#440154"/>
<rect x="342" y="192" width="3" height="2" fill="#4bbe60"/>
<rect x="342" y="191" width="3" height="1" fill="#e8f2d7"/>
<rect x="342" y="189" width="3" height="2" fill="#e8f2d7"/>
<rect x="345" y="202" width="4" height="2" fill="#2a7a8e"/>
<rect x="345" y="200" width="4" height="2" fill="#440154"/>
<rect x="345" y="198" width="4" height="2" fill="#238a8d"/>
<rect x="345" y="196" width="4" height="2" fill="#d0e5a7"/>
<rect x="345" y="194" width="4" height="2" fill="#e8f2d7"/>
<rect x="345" y="192" width="4" height="2" fill="#d0e5a7"/>
<rect x="345" y="191" width="4" height="1" fill="#e8f2d7"/>
<rect x="349" y="208" width="3" height="2" fill="#2aa97d"/>
<rect x="349" y="206" width="3" height="2" fill="#440154"/>
<rect x="349" y="204" width="3" height="2" fill="#39598c"/>
<rect x="349" y="202" width="3" height="2" fill="#d0e5a7"/>
<rect x="349" y="200" width="3" height="2" fill="#e8f2d7"/>
<rect x="349" y="198" width="3" height="2" fill="#e8f2d7"/>
<rect x="349" y="196" width="3" height="2" fill="#e8f2d7"/>
<rect x="349" y="194" width="3" height="2" fill="#d0e5a7"/>
<rect x="352" y="214" width="3" height="2" fill="#1f9a8a"/>
<rect x="352" y="212" width="3" height="2" fill="#440154"/>
<rect x="352" y="210" width="3" height="2" fill="#316a8e"/>
<rect x="352" y="208" width="3" height="2" fill="#d0e5a7"/>
<rect x="352" y="206" width="3" height="2" fill="#e8f2d7"/>
<rect x="352" y="204" width="3" height="2" fill="#e8f2d7"/>
<rect x="352" y="202" width="3" height="2" fill="#e8f2d7"/>
<rect x="352" y="200" width="3" height="2" fill="#e8f2d7"/>
<rect x="352" y="198" width="3" height="2" fill="#e8f2d7"/>
<rect x="355" y="200" width="4" height="2" fill="#e8f2d7"/>
<rect x="355" y="202" width="4" height="2" fill="#e8f2d7"/>
<rect x="355" y="204" width="4" height="2" fill="#e8f2d7"/>
<rect x="355" y="208" width="4" height="2" fill="#e8f2d7"/>
<rect x="355" y="210" width="4" height="2" fill="#2a7a8e"/>
<rect x="355" y="212" width="4" height="2" fill="#2aa97d"/>
<rect x="355" y="214" width="4" height="2" fill="#4bbe60"/>
<rect x="355" y="216" width="4" height="1" fill="#84cb47"/>
<rect x="355" y="217" width="4" height="2" fill="#aed96f"/>
<rect x="355" y="219" width="4" height="2" fill="#316a8e"/>
<rect x="355" y="221" width="4" height="2" fill="#2aa97d"/>
<rect x="355" y="223" width="4" height="2" fill="#e8f2d7"/>
<rect x="359" y="229" width="3" height="2" fill="#d0e5a7"/>
<rect x="359" y="227" width="3" height="2" fill="#440154"/>
<rect x="359" y="225" width="3" height="2" fill="#84cb47"/>
<rect x="359" y="223" width="3" height="2" fill="#d0e5a7"/>
<rect x="359" y="221" width="3" height="2" fill="#2aa97d"/>
<rect x="359" y="219" width="3" height="2" fill="#1f9a8a"/>
<rect x="359" y="217" width="3" height="2" fill="#d0e5a7"/>
<rect x="359" y="216" width="3" height="1" fill="#e8f2d7"/>
<rect x="359" y="206" width="3" height="2" fill="#e8f2d7"/>
<rect x="359" y="204" width="3" height="2" fill="#e8f2d7"/>
<rect x="359" y="202" width="3" height="2" fill="#e8f2d7"/>
<rect x="359" y="200" width="3" height="2" fill="#d0e5a7"/>
<rect x="362" y="233" width="4" height="2" fill="#2aa97d"/>
<rect x="362" y="231" width="4" height="2" fill="#2aa97d"/>
<rect x="362" y="229" width="4" height="2" fill="#84cb47"/>
<rect x="362" y="227" width="4" height="2" fill="#aed96f"/>
<rect x="362" y="225" width="4" height="2" fill="#aed96f"/>
<rect x="362" y="223" width="4" height="2" fill="#84cb47"/>
<rect x="362" y="221" width="4" height="2" fill="#238a8d"/>
<rect x="362" y="219" width="4" height="2" fill="#238a8d"/>
<rect x="362" y="217" width="4" height="2" fill="#aed96f"/>
<rect x="362" y="214" width="4" height="2" fill="#e8f2d7"/>
<rect x="362" y="212" width="4" height="2" fill="#e8f2d7"/>
<rect x="362" y="202" width="4" height="2" fill="#e8f2d7"/>
<rect x="366" y="235" width="3" height="2" fill="#1f9a8a"/>
<rect x="366" y="233" width="3" height="2" fill="#d0e5a7"/>
<rect x="366" y="231" width="3" height="2" fill="#e8f2d7"/>
<rect x="366" y="229" width="3" height="2" fill="#aed96f"/>
<rect x="366" y="227" width="3" height="2" fill="#aed96f"/>
<rect x="366" y="225" width="3" height="2" fill="#2aa97d"/>
<rect x="366" y="223" width="3" height="2" fill="#84cb47"/>
<rect x="366" y="221" width="3" height="2" fill="#1f9a8a"/>
<rect x="366" y="219" width="3" height="2" fill="#2aa97d"/>
<rect x="366" y="217" width="3" height="2" fill="#d0e5a7"/>
<rect x="366" y="212" width="3" height="2" fill="#e8f2d7"/>
<rect x="366" y="210" width="3" height="2" fill="#e8f2d7"/>
<rect x="366" y="206" width="3" height="2" fill="#e8f2d7"/>
<rect x="366" y="204" width="3" height="2" fill="#e8f2d7"/>
<rect x="369" y="239" width="4" height="1" fill="#aed96f"/>
<rect x="369" y="237" width="4" height="2" fill="#4bbe60"/>
<rect x="369" y="235" width="4" height="2" fill="#e8f2d7"/>
<rect x="369" y="233" width="4" height="2" fill="#e8f2d7"/>
<rect x="369" y="231" width="4" height="2" fill="#d0e5a7"/>
<rect x="369" y="229" width="4" height="2" fill="#aed96f"/>
<rect x="369" y="227" width="4" height="2" fill="#84cb47"/>
<rect x="369" y="225" width="4" height="2" fill="#4bbe60"/>
<rect x="369" y="223" width="4" height="2" fill="#2aa97d"/>
<rect x="369" y="221" width="4" height="2" fill="#1f9a8a"/>
<rect x="369" y="219" width="4" height="2" fill="#238a8d"/>
<rect x="369" y="217" width="4" height="2" fill="#d0e5a7"/>
<rect x="369" y="214" width="4" height="2" fill="#e8f2d7"/>
<rect x="369" y="212" width="4" height="2" fill="#e8f2d7"/>
<rect x="373" y="242" width="3" height="2" fill="#aed96f"/>
<rect x="373" y="240" width="3" height="2" fill="#84cb47"/>
<rect x="373" y="239" width="3" height="1" fill="#e8f2d7"/>
<rect x="373" y="237" width="3" height="2" fill="#e8f2d7"/>
<rect x="373" y="233" width="3" height="2" fill="#d0e5a7"/>
<rect x="373" y="231" width="3" height="2" fill="#e8f2d7"/>
<rect x="373" y="229" width="3" height="2" fill="#aed96f"/>
<rect x="373" y="227" width="3" height="2" fill="#4bbe60"/>
<rect x="373" y="225" width="3" height="2" fill="#aed96f"/>
<rect x="373" y="223" width="3" height="2" fill="#2aa97d"/>
<rect x="373" y="221" width="3" height="2" fill="#2aa97d"/>
<rect x="373" y="219" width="3" height="2" fill="#1f9a8a"/>
<rect x="373" y="217" width="3" height="2" fill="#d0e5a7"/>
<rect x="373" y="216" width="3" height="1" fill="#e8f2d7"/>
<rect x="373" y="214" width="3" height="2" fill="#e8f2d7"/>
<rect x="373" y="212" width="3" height="2" fill="#e8f2d7"/>
<rect x="373" y="210" width="3" height="2" fill="#e8f2d7"/>
<rect x="376" y="246" width="4" height="2" fill="#e8f2d7"/>
<rect x="376" y="244" width="4" height="2" fill="#238a8d"/>
<rect x="376" y="242" width="4" height="2" fill="#d0e5a7"/>
<rect x="376" y="237" width="4" height="2" fill="#e8f2d7"/>
<rect x="376" y="235" width="4" height="2" fill="#e8f2d7"/>
<rect x="376" y="231" width="4" height="2" fill="#d0e5a7"/>
<rect x="376" y="229" width="4" height="2" fill="#aed96f"/>
<rect x="376" y="227" width="4" height="2" fill="#aed96f"/>
<rect x="376" y="225" width="4" height="2" fill="#2aa97d"/>
<rect x="376" y="223" width="4" height="2" fill="#aed96f"/>
<rect x="376" y="221" width="4" height="2" fill="#2aa97d"/>
<rect x="376" y="219" width="4" height="2" fill="#1f9a8a"/>
<rect x="376" y="217" width="4" height="2" fill="#d0e5a7"/>
<rect x="376" y="214" width="4" height="2" fill="#e8f2d7"/>
<rect x="376" y="212" width="4" height="2" fill="#e8f2d7"/>
<rect x="380" y="248" width="3" height="2" fill="#aed96f"/>
<rect x="380" y="242" width="3" height="2" fill="#e8f2d7"/>
<rect x="380" y="240" width="3" height="2" fill="#e8f2d7"/>
<rect x="380" y="237" width="3" height="2" fill="#e8f2d7"/>
<rect x="380" y="233" width="3" height="2" fill="#e8f2d7"/>
<rect x="380" y="231" width="3" height="2" fill="#d0e5a7"/>
<rect x="380" y="229" width="3" height="2" fill="#aed96f"/>
<rect x="380" y="227" width="3" height="2" fill="#84cb47"/>
<rect x="380" y="225" width="3" height="2" fill="#4bbe60"/>
<rect x="380" y="223" width="3" height="2" fill="#4bbe60"/>
<rect x="380" y="221" width="3" height="2" fill="#2aa97d"/>
<rect x="380" y="219" width="3" height="2" fill="#1f9a8a"/>
<rect x="380" y="217" width="3" height="2" fill="#d0e5a7"/>
<rect x="380" y="214" width="3" height="2" fill="#e8f2d7"/>
<rect x="383" y="252" width="4" height="2" fill="#aed96f"/>
<rect x="383" y="250" width="4" height="2" fill="#aed96f"/>
<rect x="383" y="248" width="4" height="2" fill="#e8f2d7"/>
<rect x="383" y="246" width="4" height="2" fill="#e8f2d7"/>
<rect x="383" y="242" width="4" height="2" fill="#e8f2d7"/>
<rect x="383" y="237" width="4" height="2" fill="#e8f2d7"/>
<rect x="383" y="235" width="4" height="2" fill="#e8f2d7"/>
<rect x="383" y="233" width="4" height="2" fill="#e8f2d7"/>
<rect x="383" y="231" width="4" height="2" fill="#d0e5a7"/>
<rect x="383" y="229" width="4" height="2" fill="#aed96f"/>
<rect x="383" y="227" width="4" height="2" fill="#4bbe60"/>
<rect x="383" y="225" width="4" height="2" fill="#4bbe60"/>
<rect x="383" y="223" width="4" height="2" fill="#84cb47"/>
<rect x="383" y="221" width="4" height="2" fill="#1f9a8a"/>
<rect x="383" y="219" width="4" height="2" fill="#1f9a8a"/>
<rect x="383" y="217" width="4" height="2" fill="#e8f2d7"/>
<rect x="383" y="216" width="4" height="1" fill="#e8f2d7"/>
<rect x="383" y="210" width="4" height="2" fill="#e8f2d7"/>
<rect x="387" y="256" width="3" height="2" fill="#e8f2d7"/>
<rect x="387" y="254" width="3" height="2" fill="#aed96f"/>
<rect x="387" y="252" width="3" height="2" fill="#e8f2d7"/>
<rect x="387" y="248" width="3" height="2" fill="#e8f2d7"/>
<rect x="387" y="246" width="3" height="2" fill="#e8f2d7"/>
<rect x="387" y="242" width="3" height="2" fill="#e8f2d7"/>
<rect x="387" y="240" width="3" height="2" fill="#e8f2d7"/>
<rect x="387" y="239" width="3" height="1" fill="#e8f2d7"/>
<rect x="387" y="237" width="3" height="2" fill="#e8f2d7"/>
<rect x="387" y="235" width="3" height="2" fill="#e8f2d7"/>
<rect x="387" y="229" width="3" height="2" fill="#84cb47"/>
<rect x="387" y="227" width="3" height="2" fill="#aed96f"/>
<rect x="387" y="225" width="3" height="2" fill="#84cb47"/>
<rect x="387" y="223" width="3" height="2" fill="#4bbe60"/>
<rect x="387" y="221" width="3" height="2" fill="#2a7a8e"/>
<rect x="387" y="219" width="3" height="2" fill="#4bbe60"/>
<rect x="387" y="217" width="3" height="2" fill="#d0e5a7"/>
<rect x="387" y="214" width="3" height="2" fill="#e8f2d7"/>
<rect x="387" y="212" width="3" height="2" fill="#e8f2d7"/>
<rect x="390" y="260" width="4" height="2" fill="#e8f2d7"/>
<rect x="390" y="258" width="4" height="2" fill="#e8f2d7"/>
<rect x="390" y="256" width="4" height="2" fill="#aed96f"/>
<rect x="390" y="254" width="4" height="2" fill="#d0e5a7"/>
<rect x="390" y="252" width="4" height="2" fill="#e8f2d7"/>
<rect x="390" y="248" width="4" height="2" fill="#e8f2d7"/>
<rect x="390" y="244" width="4" height="2" fill="#e8f2d7"/>
<rect x="390" y="242" width="4" height="2" fill="#e8f2d7"/>
<rect x="390" y="237" width="4" height="2" fill="#e8f2d7"/>
<rect x="390" y="235" width="4" height="2" fill="#e8f2d7"/>
<rect x="390" y="233" width="4" height="2" fill="#e8f2d7"/>
<rect x="390" y="231" width="4" height="2" fill="#d0e5a7"/>
<rect x="390" y="229" width="4" height="2" fill="#d0e5a7"/>
<rect x="390" y="227" width="4" height="2" fill="#aed96f"/>
<rect x="390" y="225" width="4" height="2" fill="#4bbe60"/>
<rect x="390" y="223" width="4" height="2" fill="#aed96f"/>
<rect x="390" y="221" width="4" height="2" fill="#238a8d"/>
<rect x="390" y="219" width="4" height="2" fill="#2aa97d"/>
<rect x="390" y="217" width="4" height="2" fill="#d0e5a7"/>
<rect x="394" y="256" width="3" height="2" fill="#e8f2d7"/>
<rect x="394" y="254" width="3" height="2" fill="#84cb47"/>
<rect x="394" y="252" width="3" height="2" fill="#d0e5a7"/>
<rect x="394" y="250" width="3" height="2" fill="#e8f2d7"/>
<rect x="394" y="246" width="3" height="2" fill="#e8f2d7"/>
<rect x="394" y="244" width="3" height="2" fill="#e8f2d7"/>
<rect x="394" y="239" width="3" height="1" fill="#e8f2d7"/>
<rect x="394" y="235" width="3" height="2" fill="#e8f2d7"/>
<rect x="394" y="233" width="3" height="2" fill="#e8f2d7"/>
<rect x="394" y="231" width="3" height="2" fill="#d0e5a7"/>
<rect x="394" y="229" width="3" height="2" fill="#d0e5a7"/>
<rect x="394" y="227" width="3" height="2" fill="#aed96f"/>
<rect x="394" y="225" width="3" height="2" fill="#84cb47"/>
<rect x="394" y="223" width="3" height="2" fill="#84cb47"/>
<rect x="394" y="221" width="3" height="2" fill="#2aa97d"/>
<rect x="394" y="219" width="3" height="2" fill="#1f9a8a"/>
<rect x="394" y="217" width="3" height="2" fill="#e8f2d7"/>
<rect x="394" y="214" width="3" height="2" fill="#e8f2d7"/>
<rect x="394" y="212" width="3" height="2" fill="#e8f2d7"/>
<rect x="394" y="210" width="3" height="2" fill="#e8f2d7"/>
<rect x="397" y="254" width="4" height="2" fill="#e8f2d7"/>
<rect x="397" y="252" width="4" height="2" fill="#aed96f"/>
<rect x="397" y="250" width="4" height="2" fill="#e8f2d7"/>
<rect x="397" y="246" width="4" height="2" fill="#e8f2d7"/>
<rect x="397" y="244" width="4" height="2" fill="#e8f2d7"/>
<rect x="397" y="242" width="4" height="2" fill="#e8f2d7"/>
<rect x="397" y="240" width="4" height="2" fill="#e8f2d7"/>
<rect x="397" y="237" width="4" height="2" fill="#d0e5a7"/>
<rect x="397" y="235" width="4" height="2" fill="#e8f2d7"/>
<rect x="397" y="233" width="4" height="2" fill="#e8f2d7"/>
<rect x="397" y="231" width="4" height="2" fill="#e8f2d7"/>
<rect x="397" y="229" width="4" height="2" fill="#aed96f"/>
<rect x="397" y="227" width="4" height="2" fill="#84cb47"/>
<rect x="397" y="225" width="4" height="2" fill="#4bbe60"/>
<rect x="397" y="223" width="4" height="2" fill="#84cb47"/>
<rect x="397" y="221" width="4" height="2" fill="#84cb47"/>
<rect x="397" y="219" width="4" height="2" fill="#1f9a8a"/>
<rect x="397" y="217" width="4" height="2" fill="#d0e5a7"/>
<rect x="397" y="216" width="4" height="1" fill="#e8f2d7"/>
<rect x="397" y="214" width="4" height="2" fill="#e8f2d7"/>
<rect x="397" y="212" width="4" height="2" fill="#e8f2d7"/>
<rect x="397" y="210" width="4" height="2" fill="#e8f2d7"/>
<rect x="401" y="252" width="3" height="2" fill="#e8f2d7"/>
<rect x="401" y="250" width="3" height="2" fill="#aed96f"/>
<rect x="401" y="248" width="3" height="2" fill="#d0e5a7"/>
<rect x="401" y="246" width="3" height="2" fill="#e8f2d7"/>
<rect x="401" y="244" width="3" height="2" fill="#e8f2d7"/>
<rect x="401" y="240" width="3" height="2" fill="#e8f2d7"/>
<rect x="401" y="237" width="3" height="2" fill="#e8f2d7"/>
<rect x="401" y="235" width="3" height="2" fill="#e8f2d7"/>
<rect x="401" y="233" width="3" height="2" fill="#e8f2d7"/>
<rect x="401" y="231" width="3" height="2" fill="#e8f2d7"/>
<rect x="401" y="229" width="3" height="2" fill="#d0e5a7"/>
<rect x="401" y="227" width="3" height="2" fill="#84cb47"/>
<rect x="401" y="225" width="3" height="2" fill="#4bbe60"/>
<rect x="401" y="223" width="3" height="2" fill="#aed96f"/>
<rect x="401" y="221" width="3" height="2" fill="#2a7a8e"/>
<rect x="401" y="219" width="3" height="2" fill="#2aa97d"/>
<rect x="401" y="217" width="3" height="2" fill="#d0e5a7"/>
<rect x="401" y="216" width="3" height="1" fill="#e8f2d7"/>
<rect x="401" y="214" width="3" height="2" fill="#e8f2d7"/>
<rect x="401" y="212" width="3" height="2" fill="#e8f2d7"/>
<rect x="404" y="250" width="3" height="2" fill="#d0e5a7"/>
<rect x="404" y="248" width="3" height="2" fill="#d0e5a7"/>
<rect x="404" y="246" width="3" height="2" fill="#e8f2d7"/>
<rect x="404" y="242" width="3" height="2" fill="#e8f2d7"/>
<rect x="404" y="240" width="3" height="2" fill="#e8f2d7"/>
<rect x="404" y="237" width="3" height="2" fill="#e8f2d7"/>
<rect x="404" y="235" width="3" height="2" fill="#e8f2d7"/>
<rect x="404" y="233" width="3" height="2" fill="#d0e5a7"/>
<rect x="404" y="231" width="3" height="2" fill="#e8f2d7"/>
<rect x="404" y="229" width="3" height="2" fill="#aed96f"/>
<rect x="404" y="227" width="3" height="2" fill="#84cb47"/>
<rect x="404" y="225" width="3" height="2" fill="#84cb47"/>
<rect x="404" y="223" width="3" height="2" fill="#84cb47"/>
<rect x="404" y="221" width="3" height="2" fill="#238a8d"/>
<rect x="404" y="219" width="3" height="2" fill="#2aa97d"/>
<rect x="404" y="217" width="3" height="2" fill="#d0e5a7"/>
<rect x="404" y="216" width="3" height="1" fill="#e8f2d7"/>
<rect x="404" y="214" width="3" height="2" fill="#e8f2d7"/>
<rect x="404" y="212" width="3" height="2" fill="#e8f2d7"/>
<rect x="404" y="210" width="3" height="2" fill="#e8f2d7"/>
<rect x="407" y="250" width="4" height="2" fill="#e8f2d7"/>
<rect x="407" y="248" width="4" height="2" fill="#4bbe60"/>
<rect x="407" y="246" width="4" height="2" fill="#e8f2d7"/>
<rect x="407" y="244" width="4" height="2" fill="#e8f2d7"/>
<rect x="407" y="242" width="4" height="2" fill="#e8f2d7"/>
<rect x="407" y="240" width="4" height="2" fill="#d0e5a7"/>
<rect x="407" y="239" width="4" height="1" fill="#d0e5a7"/>
<rect x="407" y="235" width="4" height="2" fill="#e8f2d7"/>
<rect x="407" y="233" width="4" height="2" fill="#d0e5a7"/>
<rect x="407" y="229" width="4" height="2" fill="#d0e5a7"/>
<rect x="407" y="227" width="4" height="2" fill="#84cb47"/>
<rect x="407" y="225" width="4" height="2" fill="#4bbe60"/>
<rect x="407" y="223" width="4" height="2" fill="#84cb47"/>
<rect x="407" y="221" width="4" height="2" fill="#238a8d"/>
<rect x="407" y="219" width="4" height="2" fill="#4bbe60"/>
<rect x="407" y="217" width="4" height="2" fill="#aed96f"/>
<rect x="407" y="212" width="4" height="2" fill="#e8f2d7"/>
<rect x="411" y="248" width="3" height="2" fill="#d0e5a7"/>
<rect x="411" y="246" width="3" height="2" fill="#4bbe60"/>
<rect x="411" y="244" width="3" height="2" fill="#d0e5a7"/>
<rect x="411" y="242" width="3" height="2" fill="#e8f2d7"/>
<rect x="411" y="240" width="3" height="2" fill="#e8f2d7"/>
<rect x="411" y="237" width="3" height="2" fill="#e8f2d7"/>
<rect x="411" y="233" width="3" height="2" fill="#e8f2d7"/>
<rect x="411" y="231" width="3" height="2" fill="#e8f2d7"/>
<rect x="411" y="229" width="3" height="2" fill="#aed96f"/>
<rect x="411" y="227" width="3" height="2" fill="#d0e5a7"/>
<rect x="411" y="225" width="3" height="2" fill="#84cb47"/>
<rect x="411" y="223" width="3" height="2" fill="#4bbe60"/>
<rect x="411" y="221" width="3" height="2" fill="#4bbe60"/>
<rect x="411" y="219" width="3" height="2" fill="#2aa97d"/>
<rect x="411" y="217" width="3" height="2" fill="#d0e5a7"/>
<rect x="411" y="216" width="3" height="1" fill="#e8f2d7"/>
<rect x="414" y="246" width="4" height="2" fill="#e8f2d7"/>
<rect x="414" y="244" width="4" height="2" fill="#2aa97d"/>
<rect x="414" y="242" width="4" height="2" fill="#d0e5a7"/>
<rect x="414" y="239" width="4" height="1" fill="#e8f2d7"/>
<rect x="414" y="237" width="4" height="2" fill="#e8f2d7"/>
<rect x="414" y="235" width="4" height="2" fill="#e8f2d7"/>
<rect x="414" y="233" width="4" height="2" fill="#e8f2d7"/>
<rect x="414" y="231" width="4" height="2" fill="#e8f2d7"/>
<rect x="414" y="229" width="4" height="2" fill="#84cb47"/>
<rect x="414" y="227" width="4" height="2" fill="#4bbe60"/>
<rect x="414" y="225" width="4" height="2" fill="#84cb47"/>
<rect x="414" y="223" width="4" height="2" fill="#2aa97d"/>
<rect x="414" y="221" width="4" height="2" fill="#4bbe60"/>
<rect x="414" y="219" width="4" height="2" fill="#2aa97d"/>
<rect x="414" y="217" width="4" height="2" fill="#aed96f"/>
<rect x="414" y="216" width="4" height="1" fill="#e8f2d7"/>
<rect x="418" y="242" width="3" height="2" fill="#aed96f"/>
<rect x="418" y="240" width="3" height="2" fill="#84cb47"/>
<rect x="418" y="239" width="3" height="1" fill="#e8f2d7"/>
<rect x="418" y="237" width="3" height="2" fill="#e8f2d7"/>
<rect x="418" y="235" width="3" height="2" fill="#e8f2d7"/>
<rect x="418" y="233" width="3" height="2" fill="#e8f2d7"/>
<rect x="418" y="231" width="3" height="2" fill="#e8f2d7"/>
<rect x="418" y="229" width="3" height="2" fill="#84cb47"/>
<rect x="418" y="227" width="3" height="2" fill="#84cb47"/>
<rect x="418" y="225" width="3" height="2" fill="#4bbe60"/>
<rect x="418" y="223" width="3" height="2" fill="#aed96f"/>
<rect x="418" y="221" width="3" height="2" fill="#238a8d"/>
<rect x="418" y="219" width="3" height="2" fill="#1f9a8a"/>
<rect x="418" y="217" width="3" height="2" fill="#d0e5a7"/>
<rect x="418" y="214" width="3" height="2" fill="#e8f2d7"/>
<rect x="421" y="240" width="4" height="2" fill="#e8f2d7"/>
<rect x="421" y="239" width="4" height="1" fill="#84cb47"/>
<rect x="421" y="237" width="4" height="2" fill="#d0e5a7"/>
<rect x="421" y="235" width="4" height="2" fill="#e8f2d7"/>
<rect x="421" y="231" width="4" height="2" fill="#e8f2d7"/>
<rect x="421" y="229" width="4" height="2" fill="#84cb47"/>
<rect x="421" y="227" width="4" height="2" fill="#84cb47"/>
<rect x="421" y="225" width="4" height="2" fill="#84cb47"/>
<rect x="421" y="223" width="4" height="2" fill="#4bbe60"/>
<rect x="421" y="221" width="4" height="2" fill="#1f9a8a"/>
<rect x="421" y="219" width="4" height="2" fill="#2a7a8e"/>
<rect x="421" y="217" width="4" height="2" fill="#aed96f"/>
<rect x="421" y="216" width="4" height="1" fill="#d0e5a7"/>
<rect x="425" y="217" width="3" height="2" fill="#d0e5a7"/>
<rect x="425" y="219" width="3" height="2" fill="#2aa97d"/>
<rect x="425" y="221" width="3" height="2" fill="#39598c"/>
<rect x="425" y="223" width="3" height="2" fill="#1f9a8a"/>
<rect x="425" y="225" width="3" height="2" fill="#aed96f"/>
<rect x="425" y="227" width="3" height="2" fill="#aed96f"/>
<rect x="425" y="229" width="3" height="2" fill="#e8f2d7"/>
<rect x="425" y="231" width="3" height="2" fill="#e8f2d7"/>
<rect x="425" y="233" width="3" height="2" fill="#84cb47"/>
<rect x="425" y="235" width="3" height="2" fill="#aed96f"/>
<rect x="425" y="237" width="3" height="2" fill="#aed96f"/>
<rect x="425" y="239" width="3" height="1" fill="#4bbe60"/>
<rect x="425" y="240" width="3" height="2" fill="#aed96f"/>
<rect x="428" y="217" width="4" height="2" fill="#aed96f"/>
<rect x="428" y="219" width="4" height="2" fill="#4bbe60"/>
<rect x="428" y="221" width="4" height="2" fill="#238a8d"/>
<rect x="428" y="223" width="4" height="2" fill="#4bbe60"/>
<rect x="428" y="225" width="4" height="2" fill="#d0e5a7"/>
<rect x="428" y="227" width="4" height="2" fill="#aed96f"/>
<rect x="428" y="229" width="4" height="2" fill="#e8f2d7"/>
<rect x="428" y="231" width="4" height="2" fill="#e8f2d7"/>
<rect x="428" y="233" width="4" height="2" fill="#4bbe60"/>
<rect x="428" y="235" width="4" height="2" fill="#4bbe60"/>
<rect x="428" y="237" width="4" height="2" fill="#aed96f"/>
<rect x="428" y="239" width="4" height="1" fill="#84cb47"/>
<rect x="428" y="240" width="4" height="2" fill="#aed96f"/>
<rect x="432" y="217" width="3" height="2" fill="#aed96f"/>
<rect x="432" y="219" width="3" height="2" fill="#4bbe60"/>
<rect x="432" y="221" width="3" height="2" fill="#2aa97d"/>
<rect x="432" y="223" width="3" height="2" fill="#4bbe60"/>
<rect x="432" y="225" width="3" height="2" fill="#4bbe60"/>
<rect x="432" y="227" width="3" height="2" fill="#aed96f"/>
<rect x="432" y="229" width="3" height="2" fill="#aed96f"/>
<rect x="432" y="231" width="3" height="2" fill="#aed96f"/>
<rect x="432" y="233" width="3" height="2" fill="#2aa97d"/>
<rect x="432" y="235" width="3" height="2" fill="#d0e5a7"/>
<rect x="432" y="237" width="3" height="2" fill="#2aa97d"/>
<rect x="435" y="216" width="4" height="1" fill="#e8f2d7"/>
<rect x="435" y="219" width="4" height="2" fill="#1f9a8a"/>
<rect x="435" y="221" width="4" height="2" fill="#4bbe60"/>
<rect x="435" y="223" width="4" height="2" fill="#84cb47"/>
<rect x="435" y="225" width="4" height="2" fill="#1f9a8a"/>
<rect x="435" y="227" width="4" height="2" fill="#e8f2d7"/>
<rect x="435" y="229" width="4" height="2" fill="#e8f2d7"/>
<rect x="435" y="231" width="4" height="2" fill="#1f9a8a"/>
<rect x="435" y="233" width="4" height="2" fill="#4bbe60"/>
<rect x="435" y="235" width="4" height="2" fill="#1f9a8a"/>
<rect x="435" y="237" width="4" height="2" fill="#e8f2d7"/>
<rect x="439" y="216" width="3" height="1" fill="#e8f2d7"/>
<rect x="439" y="217" width="3" height="2" fill="#84cb47"/>
<rect x="439" y="219" width="3" height="2" fill="#2aa97d"/>
<rect x="439" y="221" width="3" height="2" fill="#4bbe60"/>
<rect x="439" y="223" width="3" height="2" fill="#aed96f"/>
<rect x="439" y="225" width="3" height="2" fill="#aed96f"/>
<rect x="439" y="227" width="3" height="2" fill="#d0e5a7"/>
<rect x="439" y="229" width="3" height="2" fill="#2aa97d"/>
<rect x="439" y="231" width="3" height="2" fill="#84cb47"/>
<rect x="439" y="233" width="3" height="2" fill="#84cb47"/>
<rect x="439" y="235" width="3" height="2" fill="#4bbe60"/>
<rect x="439" y="237" width="3" height="2" fill="#e8f2d7"/>
<rect x="442" y="217" width="4" height="2" fill="#aed96f"/>
<rect x="442" y="219" width="4" height="2" fill="#84cb47"/>
<rect x="442" y="221" width="4" height="2" fill="#2aa97d"/>
<rect x="442" y="223" width="4" height="2" fill="#238a8d"/>
<rect x="442" y="225" width="4" height="2" fill="#2aa97d"/>
<rect x="442" y="227" width="4" height="2" fill="#2aa97d"/>
<rect x="442" y="229" width="4" height="2" fill="#2aa97d"/>
<rect x="442" y="231" width="4" height="2" fill="#2aa97d"/>
<rect x="446" y="216" width="3" height="1" fill="#aed96f"/>
<rect x="446" y="217" width="3" height="2" fill="#aed96f"/>
<rect x="446" y="219" width="3" height="2" fill="#4bbe60"/>
<rect x="446" y="221" width="3" height="2" fill="#4bbe60"/>
<rect x="446" y="223" width="3" height="2" fill="#aed96f"/>
<rect x="446" y="225" width="3" height="2" fill="#4bbe60"/>
<rect x="446" y="227" width="3" height="2" fill="#2aa97d"/>
<rect x="446" y="229" width="3" height="2" fill="#39598c"/>
<rect x="446" y="231" width="3" height="2" fill="#aed96f"/>
<rect x="449" y="216" width="4" height="1" fill="#aed96f"/>
<rect x="449" y="217" width="4" height="2" fill="#1f9a8a"/>
<rect x="449" y="219" width="4" height="2" fill="#1f9a8a"/>
<rect x="449" y="221" width="4" height="2" fill="#aed96f"/>
<rect x="449" y="223" width="4" height="2" fill="#1f9a8a"/>
<rect x="449" y="225" width="4" height="2" fill="#39598c"/>
<rect x="449" y="227" width="4" height="2" fill="#1f9a8a"/>
<rect x="453" y="216" width="3" height="1" fill="#d0e5a7"/>
<rect x="453" y="217" width="3" height="2" fill="#1f9a8a"/>
<rect x="453" y="219" width="3" height="2" fill="#1f9a8a"/>
<rect x="453" y="221" width="3" height="2" fill="#84cb47"/>
<rect x="453" y="223" width="3" height="2" fill="#2aa97d"/>
<rect x="453" y="225" width="3" height="2" fill="#39598c"/>
<rect x="453" y="227" width="3" height="2" fill="#1f9a8a"/>
<rect x="456" y="216" width="4" height="1" fill="#aed96f"/>
<rect x="456" y="217" width="4" height="2" fill="#238a8d"/>
<rect x="456" y="219" width="4" height="2" fill="#238a8d"/>
<rect x="456" y="221" width="4" height="2" fill="#4bbe60"/>
<rect x="456" y="223" width="4" height="2" fill="#404788"/>
<rect x="456" y="225" width="4" height="2" fill="#1f9a8a"/>
<rect x="456" y="227" width="4" height="2" fill="#d0e5a7"/>
<rect x="460" y="216" width="3" height="1" fill="#aed96f"/>
<rect x="460" y="217" width="3" height="2" fill="#238a8d"/>
<rect x="460" y="219" width="3" height="2" fill="#238a8d"/>
<rect x="460" y="221" width="3" height="2" fill="#4bbe60"/>
<rect x="460" y="223" width="3" height="2" fill="#404788"/>
<rect x="460" y="225" width="3" height="2" fill="#1f9a8a"/>
<rect x="460" y="227" width="3" height="2" fill="#d0e5a7"/>
<rect x="463" y="212" width="3" height="2" fill="#e8f2d7"/>
<rect x="463" y="214" width="3" height="2" fill="#aed96f"/>
<rect x="463" y="216" width="3" height="1" fill="#46327e"/>
<rect x="463" y="217" width="3" height="2" fill="#2aa97d"/>
<rect x="463" y="219" width="3" height="2" fill="#471365"/>
<rect x="463" y="221" width="3" height="2" fill="#2aa97d"/>
<rect x="463" y="223" width="3" height="2" fill="#aed96f"/>
<rect x="466" y="212" width="4" height="2" fill="#e8f2d7"/>
<rect x="466" y="214" width="4" height="2" fill="#aed96f"/>
<rect x="466" y="216" width="4" height="1" fill="#46327e"/>
<rect x="466" y="217" width="4" height="2" fill="#2aa97d"/>
<rect x="466" y="219" width="4" height="2" fill="#471365"/>
<rect x="466" y="221" width="4" height="2" fill="#2aa97d"/>
<rect x="466" y="223" width="4" height="2" fill="#aed96f"/>
<rect x="470" y="210" width="3" height="2" fill="#d0e5a7"/>
<rect x="470" y="212" width="3" height="2" fill="#238a8d"/>
<rect x="470" y="214" width="3" height="2" fill="#238a8d"/>
<rect x="470" y="216" width="3" height="1" fill="#4bbe60"/>
<rect x="470" y="217" width="3" height="2" fill="#316a8e"/>
<rect x="470" y="219" width="3" height="2" fill="#238a8d"/>
<rect x="470" y="221" width="3" height="2" fill="#e8f2d7"/>
<rect x="473" y="210" width="4" height="2" fill="#d0e5a7"/>
<rect x="473" y="212" width="4" height="2" fill="#238a8d"/>
<rect x="473" y="214" width="4" height="2" fill="#238a8d"/>
<rect x="473" y="216" width="4" height="1" fill="#4bbe60"/>
<rect x="473" y="217" width="4" height="2" fill="#316a8e"/>
<rect x="473" y="219" width="4" height="2" fill="#238a8d"/>
<rect x="473" y="221" width="4" height="2" fill="#e8f2d7"/>
<rect x="477" y="204" width="3" height="2" fill="#d0e5a7"/>
<rect x="477" y="206" width="3" height="2" fill="#4bbe60"/>
<rect x="477" y="208" width="3" height="2" fill="#316a8e"/>
<rect x="477" y="210" width="3" height="2" fill="#2aa97d"/>
<rect x="477" y="212" width="3" height="2" fill="#440154"/>
<rect x="477" y="214" width="3" height="2" fill="#238a8d"/>
<rect x="480" y="204" width="4" height="2" fill="#d0e5a7"/>
<rect x="480" y="206" width="4" height="2" fill="#4bbe60"/>
<rect x="480" y="208" width="4" height="2" fill="#316a8e"/>
<rect x="480" y="210" width="4" height="2" fill="#2aa97d"/>
<rect x="480" y="212" width="4" height="2" fill="#440154"/>
<rect x="480" y="214" width="4" height="2" fill="#238a8d"/>
<rect x="484" y="204" width="3" height="2" fill="#d0e5a7"/>
<rect x="484" y="206" width="3" height="2" fill="#4bbe60"/>
<rect x="484" y="208" width="3" height="2" fill="#316a8e"/>
<rect x="484" y="210" width="3" height="2" fill="#2aa97d"/>
<rect x="484" y="212" width="3" height="2" fill="#440154"/>
<rect x="484" y="214" width="3" height="2" fill="#238a8d"/>
<rect x="487" y="204" width="4" height="2" fill="#d0e5a7"/>
<rect x="487" y="206" width="4" height="2" fill="#4bbe60"/>
<rect x="487" y="208" width="4" height="2" fill="#316a8e"/>
<rect x="487" y="210" width="4" height="2" fill="#2aa97d"/>
<rect x="487" y="212" width="4" height="2" fill="#440154"/>
<rect x="487" y="214" width="4" height="2" fill="#238a8d"/>
<rect x="491" y="200" width="3" height="2" fill="#e8f2d7"/>
<rect x="491" y="202" width="3" height="2" fill="#84cb47"/>
<rect x="491" y="204" width="3" height="2" fill="#46327e"/>
<rect x="491" y="206" width="3" height="2" fill="#2aa97d"/>
<rect x="491" y="208" width="3" height="2" fill="#404788"/>
<rect x="491" y="210" width="3" height="2" fill="#4bbe60"/>
<rect x="491" y="212" width="3" height="2" fill="#2aa97d"/>
<rect x="494" y="200" width="4" height="2" fill="#e8f2d7"/>
<rect x="494" y="202" width="4" height="2" fill="#84cb47"/>
<rect x="494" y="204" width="4" height="2" fill="#46327e"/>
<rect x="494" y="206" width="4" height="2" fill="#2aa97d"/>
<rect x="494" y="208" width="4" height="2" fill="#404788"/>
<rect x="494" y="210" width="4" height="2" fill="#4bbe60"/>
<rect x="494" y="212" width="4" height="2" fill="#2aa97d"/>
<rect x="498" y="200" width="3" height="2" fill="#e8f2d7"/>
<rect x="498" y="202" width="3" height="2" fill="#84cb47"/>
<rect x="498" y="204" width="3" height="2" fill="#46327e"/>
<rect x="498" y="206" width="3" height="2" fill="#2aa97d"/>
<rect x="498" y="208" width="3" height="2" fill="#404788"/>
<rect x="498" y="210" width="3" height="2" fill="#4bbe60"/>
<rect x="498" y="212" width="3" height="2" fill="#2aa97d"/>
<rect x="501" y="200" width="4" height="2" fill="#e8f2d7"/>
<rect x="501" y="202" width="4" height="2" fill="#84cb47"/>
<rect x="501" y="204" width="4" height="2" fill="#46327e"/>
<rect x="501" y="206" width="4" height="2" fill="#2aa97d"/>
<rect x="501" y="208" width="4" height="2" fill="#404788"/>
<rect x="501" y="210" width="4" height="2" fill="#4bbe60"/>
<rect x="501" y="212" width="4" height="2" fill="#2aa97d"/>
<rect x="505" y="191" width="3" height="1" fill="#e8f2d7"/>
<rect x="505" y="192" width="3" height="2" fill="#e8f2d7"/>
<rect x="505" y="194" width="3" height="2" fill="#2aa97d"/>
<rect x="505" y="196" width="3" height="2" fill="#316a8e"/>
<rect x="505" y="198" width="3" height="2" fill="#2a7a8e"/>
<rect x="505" y="200" width="3" height="2" fill="#2a7a8e"/>
<rect x="505" y="202" width="3" height="2" fill="#238a8d"/>
<rect x="505" y="204" width="3" height="2" fill="#d0e5a7"/>
<rect x="505" y="206" width="3" height="2" fill="#e8f2d7"/>
<rect x="508" y="191" width="4" height="1" fill="#e8f2d7"/>
<rect x="508" y="192" width="4" height="2" fill="#e8f2d7"/>
<rect x="508" y="194" width="4" height="2" fill="#2aa97d"/>
<rect x="508" y="196" width="4" height="2" fill="#316a8e"/>
<rect x="508" y="198" width="4" height="2" fill="#2a7a8e"/>
<rect x="508" y="200" width="4" height="2" fill="#2a7a8e"/>
<rect x="508" y="202" width="4" height="2" fill="#238a8d"/>
<rect x="508" y="204" width="4" height="2" fill="#d0e5a7"/>
<rect x="508" y="206" width="4" height="2" fill="#e8f2d7"/>
<rect x="512" y="191" width="3" height="1" fill="#e8f2d7"/>
<rect x="512" y="192" width="3" height="2" fill="#e8f2d7"/>
<rect x="512" y="194" width="3" height="2" fill="#2aa97d"/>
<rect x="512" y="196" width="3" height="2" fill="#316a8e"/>
<rect x="512" y="198" width="3" height="2" fill="#2a7a8e"/>
<rect x="512" y="200" width="3" height="2" fill="#2a7a8e"/>
<rect x="512" y="202" width="3" height="2" fill="#238a8d"/>
<rect x="512" y="204" width="3" height="2" fill="#d0e5a7"/>
<rect x="512" y="206" width="3" height="2" fill="#e8f2d7"/>
<rect x="515" y="191" width="3" height="1" fill="#e8f2d7"/>
<rect x="515" y="192" width="3" height="2" fill="#e8f2d7"/>
<rect x="515" y="194" width="3" height="2" fill="#2aa97d"/>
<rect x="515" y="196" width="3" height="2" fill="#316a8e"/>
<rect x="515" y="198" width="3" height="2" fill="#2a7a8e"/>
<rect x="515" y="200" width="3" height="2" fill="#2a7a8e"/>
<rect x="515" y="202" width="3" height="2" fill="#238a8d"/>
<rect x="515" y="204" width="3" height="2" fill="#d0e5a7"/>
<rect x="515" y="206" width="3" height="2" fill="#e8f2d7"/>
<rect x="518" y="191" width="5" height="1" fill="#e8f2d7"/>
<rect x="518" y="192" width="5" height="2" fill="#e8f2d7"/>
<rect x="518" y="194" width="5" height="2" fill="#2aa97d"/>
<rect x="518" y="196" width="5" height="2" fill="#316a8e"/>
<rect x="518" y="198" width="5" height="2" fill="#2a7a8e"/>
<rect x="518" y="200" width="5" height="2" fill="#2a7a8e"/>
<rect x="518" y="202" width="5" height="2" fill="#238a8d"/>
<rect x="518" y="204" width="5" height="2" fill="#d0e5a7"/>
<rect x="518" y="206" width="5" height="2" fill="#e8f2d7"/>
</g>
<path d="M105.5 48.5V336.5M121.5 48.5V336.5M132.5 48.5V336.5M141.5 48.5V336.5M149.5 48.5V336.5M155.5 48.5V336.5M160.5 48.5V336.5M165.5 48.5V336.5M169.5 48.5V336.5M197.5 48.5V336.5M213.5 48.5V336.5M224.5 48.5V336.5M233.5 48.5V336.5M241.5 48.5V336.5M247.5 48.5V336.5M252.5 48.5V336.5M257.5 48.5V336.5M261.5 48.5V336.5M289.5 48.5V336.5M305.5 48.5V336.5M317.5 48.5V336.5M326.5 48.5V336.5M333.5 48.5V336.5M339.5 48.5V336.5M344.5 48.5V336.5M349.5 48.5V336.5M353.5 48.5V336.5M381.5 48.5V336.5M397.5 48.5V336.5M409.5 48.5V336.5M418.5 48.5V336.5M425.5 48.5V336.5M431.5 48.5V336.5M437.5 48.5V336.5M441.5 48.5V336.5M445.5 48.5V336.5M473.5 48.5V336.5M489.5 48.5V336.5M501.5 48.5V336.5M510.5 48.5V336.5M517.5 48.5V336.5M523.5 48.5V336.5M529.5 48.5V336.5M533.5 48.5V336.5M77.5 298.5H538.5M77.5 259.5H538.5M77.5 221.5H538.5M77.5 182.5H538.5M77.5 144.5H538.5M77.5 106.5H538.5M77.5 67.5H538.5" stroke="#b0b0b0" stroke-width="1.1" fill="none"/>
<g clip-path="url(#ca)" fill="none" stroke-linejoin="round" stroke-linecap="square">
<path d="M168.96 274.56L190.20 272.06L224.45 272.06L252.19 276.87L269.73 266.30L296.16 237.40L319.50 222.91L325.54 222.90L332.83 238.08L353.28 266.40L360.58 271.19L371.08 263.29L384.66 292.81L399.33 307.19L413.48 312.00L431.16 312.00L445.84 307.20L462.72 307.18L492.98 311.98L517.15 306.01L629.76 243.61" stroke="#666" stroke-width="2.78"/>
<path d="M168.96 127.68L200.52 139.02L215.51 164.16L252.19 182.40L314.55 140.16L322.20 137.28L334.79 145.92L343.85 169.91L370.56 182.40L381.02 217.91L496.13 193.93L721.92 45.14" stroke="#666" stroke-width="2.78"/>
<path d="M104.54 210.03L108.01 206.48L111.48 203.90L114.94 202.71L118.41 201.01L121.88 194.75L125.35 191.23L128.82 191.80L132.28 194.25L135.75 196.65L139.22 199.33L142.69 204.39L146.15 208.66L149.62 212.30L153.09 215.57L156.56 218.52L160.03 221.16L163.49 222.95L166.96 224.38L170.43 225.77L173.90 226.87L177.37 227.91L180.83 228.95L184.30 229.83L187.77 230.52L191.24 231.02L194.71 231.37L198.17 231.72L201.64 232.12L205.11 232.74L208.58 233.26L212.04 233.81L215.51 234.49L218.98 235.08L222.45 235.74L225.92 236.37L229.38 236.82L232.85 237.10L236.32 237.25L239.79 237.25L243.26 237.09L246.72 236.74L250.19 236.21L253.66 235.52L257.13 234.61L260.60 233.53L264.06 232.25L267.53 230.63L271.00 228.77L274.47 226.59L277.94 223.34L281.40 219.95L284.87 216.62L288.34 213.50L291.81 210.16L295.27 206.66L298.74 203.61L302.21 200.84L305.68 198.28L309.15 195.85L312.61 193.68L316.08 191.71L319.55 189.98L323.02 188.39L326.49 186.83L329.95 185.27L333.42 183.88L336.89 185.73L340.36 189.73L343.83 193.89L347.29 198.60L350.76 203.73L354.23 209.35L357.70 214.65L361.16 220.04L364.63 224.65L368.10 225.78L371.57 226.64L375.04 227.51L378.50 228.83L381.97 230.13L385.44 231.38L388.91 232.42L392.38 232.92L395.84 233.04L399.31 232.80L402.78 232.28L406.25 231.78L409.72 231.43L413.18 230.89L416.65 230.32L420.12 229.73L423.59 229.21L427.05 228.79L430.52 228.40L433.99 227.70L437.46 226.89L440.93 226.02L444.39 225.15L447.86 224.14L451.33 223.17L454.80 222.30L458.27 221.40L461.73 221.40L465.20 218.00L468.67 218.00L472.14 215.60L475.61 215.60L479.07 210.20L482.54 210.20L486.01 210.20L489.48 210.20L492.94 207.25L496.41 207.25L499.88 207.25L503.35 207.25L506.82 198.90L510.28 198.90L513.75 198.90L517.22 198.90L520.69 198.90" stroke="#000" stroke-width="2.1"/>
</g>
<rect x="77.5" y="48.5" width="461" height="288" fill="none" stroke="#000" stroke-width="1.1"/>
<path d="M77.5 336.5v4.9M169.5 336.5v4.9M261.5 336.5v4.9M353.5 336.5v4.9M445.5 336.5v4.9M538.5 336.5v4.9M77.5 336.5h-4.9M77.5 298.5h-4.9M77.5 259.5h-4.9M77.5 221.5h-4.9M77.5 182.5h-4.9M77.5 144.5h-4.9M77.5 106.5h-4.9M77.5 67.5h-4.9" stroke="#000" stroke-width="1.1" fill="none"/>
<path d="M105.5 336.5v2.8M121.5 336.5v2.8M132.5 336.5v2.8M141.5 336.5v2.8M149.5 336.5v2.8M155.5 336.5v2.8M160.5 336.5v2.8M165.5 336.5v2.8M197.5 336.5v2.8M213.5 336.5v2.8M224.5 336.5v2.8M233.5 336.5v2.8M241.5 336.5v2.8M247.5 336.5v2.8M252.5 336.5v2.8M257.5 336.5v2.8M289.5 336.5v2.8M305.5 336.5v2.8M317.5 336.5v2.8M326.5 336.5v2.8M333.5 336.5v2.8M339.5 336.5v2.8M344.5 336.5v2.8M349.5 336.5v2.8M381.5 336.5v2.8M397.5 336.5v2.8M409.5 336.5v2.8M418.5 336.5v2.8M425.5 336.5v2.8M431.5 336.5v2.8M437.5 336.5v2.8M441.5 336.5v2.8M473.5 336.5v2.8M489.5 336.5v2.8M501.5 336.5v2.8M510.5 336.5v2.8M517.5 336.5v2.8M523.5 336.5v2.8M529.5 336.5v2.8M533.5 336.5v2.8" stroke="#000" stroke-width="0.85" fill="none"/>
<text x="62.07" y="357.00" font-size="13.89px" textLength="30.18" lengthAdjust="spacingAndGlyphs">0.01</text>
<text x="158.66" y="357.00" font-size="13.89px" textLength="21.17" lengthAdjust="spacingAndGlyphs">0.1</text>
<text x="257.61" y="357.00" font-size="13.89px" textLength="7.72" lengthAdjust="spacingAndGlyphs">1</text>
<text x="345.25" y="357.00" font-size="13.89px" textLength="16.98" lengthAdjust="spacingAndGlyphs">10</text>
<text x="432.99" y="357.00" font-size="13.89px" textLength="25.72" lengthAdjust="spacingAndGlyphs">100</text>
<text x="520.72" y="357.00" font-size="13.89px" textLength="34.73" lengthAdjust="spacingAndGlyphs">1000</text>
<text x="29.75" y="341.40" font-size="13.89px" textLength="37.15" lengthAdjust="spacingAndGlyphs">−200</text>
<text x="29.75" y="303.40" font-size="13.89px" textLength="37.15" lengthAdjust="spacingAndGlyphs">−180</text>
<text x="29.75" y="264.40" font-size="13.89px" textLength="37.15" lengthAdjust="spacingAndGlyphs">−160</text>
<text x="29.75" y="226.40" font-size="13.89px" textLength="37.15" lengthAdjust="spacingAndGlyphs">−140</text>
<text x="29.75" y="187.40" font-size="13.89px" textLength="37.15" lengthAdjust="spacingAndGlyphs">−120</text>
<text x="29.75" y="149.40" font-size="13.89px" textLength="37.15" lengthAdjust="spacingAndGlyphs">−100</text>
<text x="38.57" y="111.40" font-size="13.89px" textLength="28.30" lengthAdjust="spacingAndGlyphs">−80</text>
<text x="38.57" y="72.40" font-size="13.89px" textLength="28.30" lengthAdjust="spacingAndGlyphs">−60</text>
<text x="274.72" y="375.80" font-size="13.89px" textLength="42.78" lengthAdjust="spacingAndGlyphs">Period</text><text x="322.08" y="375.80" font-size="13.89px" textLength="18.29" lengthAdjust="spacingAndGlyphs">[s]</text>
<g transform="translate(16.7,268.0) rotate(-90)">
<text x="-0.60" y="0.00" font-size="13.89px" textLength="42.09" lengthAdjust="spacingAndGlyphs">Power</text>
<text x="45.11" y="0.00" font-size="13.89px" textLength="4.21" lengthAdjust="spacingAndGlyphs">[</text>
<text x="51.31" y="0.00" font-size="13.89px" textLength="13.20" lengthAdjust="spacingAndGlyphs" font-style="italic">m</text>
<text x="65.00" y="-4.90" font-size="9.72px" textLength="5.40" lengthAdjust="spacingAndGlyphs">2</text>
<text x="71.90" y="0.00" font-size="13.89px" textLength="4.61" lengthAdjust="spacingAndGlyphs">/</text>
<text x="76.75" y="0.00" font-size="13.89px" textLength="7.08" lengthAdjust="spacingAndGlyphs" font-style="italic">s</text>
<text x="83.84" y="-4.90" font-size="9.72px" textLength="5.68" lengthAdjust="spacingAndGlyphs">4</text>
<text x="90.90" y="0.00" font-size="13.89px" textLength="4.61" lengthAdjust="spacingAndGlyphs">/</text>
<text x="95.72" y="0.00" font-size="13.89px" textLength="10.03" lengthAdjust="spacingAndGlyphs" font-style="italic">H</text>
<text x="107.14" y="0.00" font-size="13.89px" textLength="7.58" lengthAdjust="spacingAndGlyphs" font-style="italic">z</text>
<text x="114.37" y="0.00" font-size="13.89px" textLength="4.03" lengthAdjust="spacingAndGlyphs">]</text>
<text x="122.92" y="0.00" font-size="13.89px" textLength="29.19" lengthAdjust="spacingAndGlyphs">[dB]</text>
</g>
<text x="105.03" y="9.70" font-size="12.50px" textLength="107.53" lengthAdjust="spacingAndGlyphs">BK.MZTA.00.HHN</text><text x="225.30" y="9.70" font-size="12.50px" textLength="72.44" lengthAdjust="spacingAndGlyphs">2021-11-26</text><text x="301.86" y="9.70" font-size="12.50px" textLength="8.90" lengthAdjust="spacingAndGlyphs">--</text><text x="314.83" y="9.70" font-size="12.50px" textLength="72.44" lengthAdjust="spacingAndGlyphs">2021-11-26</text><text x="394.81" y="9.70" font-size="12.50px" textLength="40.37" lengthAdjust="spacingAndGlyphs">(47/47</text><text x="440.04" y="9.70" font-size="12.50px" textLength="66.26" lengthAdjust="spacingAndGlyphs">segments)</text>
<text x="189.24" y="24.70" font-size="12.50px" textLength="75.32" lengthAdjust="spacingAndGlyphs">sensor_type</text><text x="268.81" y="24.70" font-size="12.50px" textLength="39.64" lengthAdjust="spacingAndGlyphs">MBB-2</text><text x="313.19" y="24.70" font-size="12.50px" textLength="61.62" lengthAdjust="spacingAndGlyphs">sensor_sn</text><text x="379.29" y="24.70" font-size="12.50px" textLength="47.29" lengthAdjust="spacingAndGlyphs">184476</text>
<text x="164.64" y="39.60" font-size="12.50px" textLength="102.04" lengthAdjust="spacingAndGlyphs">datalogger_type</text><text x="270.75" y="39.60" font-size="12.50px" textLength="51.35" lengthAdjust="spacingAndGlyphs">Q330S+</text><text x="326.84" y="39.60" font-size="12.50px" textLength="88.51" lengthAdjust="spacingAndGlyphs">datalogger_sn</text><text x="419.57" y="39.60" font-size="12.50px" textLength="31.33" lengthAdjust="spacingAndGlyphs">6433</text>
<defs><linearGradient id="cb" x1="0" y1="1" x2="0" y2="0">
<stop offset="0.0000" stop-color="#ffffff"/>
<stop offset="0.0700" stop-color="#e8f2d8"/>
<stop offset="0.1433" stop-color="#cfe5a6"/>
<stop offset="0.2133" stop-color="#aed96f"/>
<stop offset="0.2833" stop-color="#84cb47"/>
<stop offset="0.3533" stop-color="#4cbe5f"/>
<stop offset="0.4267" stop-color="#29a97d"/>
<stop offset="0.4967" stop-color="#1f9a8a"/>
<stop offset="0.5667" stop-color="#238a8d"/>
<stop offset="0.6367" stop-color="#2a7a8e"/>
<stop offset="0.7100" stop-color="#316a8e"/>
<stop offset="0.7800" stop-color="#39598c"/>
<stop offset="0.8500" stop-color="#404788"/>
<stop offset="0.9233" stop-color="#46327e"/>
<stop offset="0.9933" stop-color="#471365"/>
<stop offset="1.0000" stop-color="#440154"/>
</linearGradient></defs>
<rect x="566.5" y="212.2" width="6.7" height="124.3" fill="url(#cb)"/>
<rect x="566.5" y="213.4" width="6.7" height="123.1" fill="none" stroke="#000" stroke-width="1.1"/>
<text x="591.35" y="341.30" font-size="13.89px" textLength="8.16" lengthAdjust="spacingAndGlyphs">0</text>
<text x="591.50" y="320.80" font-size="13.89px" textLength="7.72" lengthAdjust="spacingAndGlyphs">5</text>
<text x="591.40" y="300.30" font-size="13.89px" textLength="16.98" lengthAdjust="spacingAndGlyphs">10</text>
<text x="591.42" y="279.80" font-size="13.89px" textLength="16.70" lengthAdjust="spacingAndGlyphs">15</text>
<text x="591.31" y="259.30" font-size="13.89px" textLength="17.08" lengthAdjust="spacingAndGlyphs">20</text>
<text x="591.32" y="238.80" font-size="13.89px" textLength="16.80" lengthAdjust="spacingAndGlyphs">25</text>
<text x="591.45" y="218.30" font-size="13.89px" textLength="16.93" lengthAdjust="spacingAndGlyphs">30</text>
<path d="M581 336.5h5.6M581 315.5h5.6M581 295.5h5.6M581 274.5h5.6M581 254.5h5.6M581 233.5h5.6M581 213.5h5.6" stroke="#000" stroke-width="1.1" fill="none"/>
<g transform="translate(624.0,206.2) rotate(-90)"><text x="-0.07" y="0.00" font-size="13.89px" textLength="24.08" lengthAdjust="spacingAndGlyphs">[%]</text></g>
<rect x="116" y="379.5" width="408" height="7.5" fill="#008000" shape-rendering="crispEdges"/>
<rect x="116" y="387" width="408" height="11.5" fill="#0000ff" shape-rendering="crispEdges"/>
<rect x="96.5" y="379.5" width="448" height="19" fill="none" stroke="#000" stroke-width="1.1"/>
<g transform="translate(59.60,449.0) rotate(-30)"><text x="0.34" y="0.00" font-size="13.89px" textLength="39.87" lengthAdjust="spacingAndGlyphs">11-26</text><text x="45.04" y="0.00" font-size="13.89px" textLength="17.06" lengthAdjust="spacingAndGlyphs">00</text></g>
<g transform="translate(110.60,449.0) rotate(-30)"><text x="0.34" y="0.00" font-size="13.89px" textLength="39.87" lengthAdjust="spacingAndGlyphs">11-26</text><text x="45.05" y="0.00" font-size="13.89px" textLength="16.93" lengthAdjust="spacingAndGlyphs">03</text></g>
<g transform="translate(161.60,449.0) rotate(-30)"><text x="0.34" y="0.00" font-size="13.89px" textLength="39.87" lengthAdjust="spacingAndGlyphs">11-26</text><text x="45.04" y="0.00" font-size="13.89px" textLength="17.20" lengthAdjust="spacingAndGlyphs">06</text></g>
<g transform="translate(212.60,449.0) rotate(-30)"><text x="0.34" y="0.00" font-size="13.89px" textLength="39.87" lengthAdjust="spacingAndGlyphs">11-26</text><text x="45.04" y="0.00" font-size="13.89px" textLength="17.06" lengthAdjust="spacingAndGlyphs">09</text></g>
<g transform="translate(263.60,449.0) rotate(-30)"><text x="0.34" y="0.00" font-size="13.89px" textLength="39.87" lengthAdjust="spacingAndGlyphs">11-26</text><text x="45.14" y="0.00" font-size="13.89px" textLength="16.71" lengthAdjust="spacingAndGlyphs">12</text></g>
<g transform="translate(314.60,449.0) rotate(-30)"><text x="0.34" y="0.00" font-size="13.89px" textLength="39.87" lengthAdjust="spacingAndGlyphs">11-26</text><text x="45.14" y="0.00" font-size="13.89px" textLength="16.70" lengthAdjust="spacingAndGlyphs">15</text></g>
<g transform="translate(365.60,449.0) rotate(-30)"><text x="0.34" y="0.00" font-size="13.89px" textLength="39.87" lengthAdjust="spacingAndGlyphs">11-26</text><text x="45.12" y="0.00" font-size="13.89px" textLength="16.98" lengthAdjust="spacingAndGlyphs">18</text></g>
<g transform="translate(416.60,449.0) rotate(-30)"><text x="0.34" y="0.00" font-size="13.89px" textLength="39.87" lengthAdjust="spacingAndGlyphs">11-26</text><text x="45.04" y="0.00" font-size="13.89px" textLength="16.82" lengthAdjust="spacingAndGlyphs">21</text></g>
<g transform="translate(467.60,449.0) rotate(-30)"><text x="0.35" y="0.00" font-size="13.89px" textLength="39.63" lengthAdjust="spacingAndGlyphs">11-27</text><text x="45.04" y="0.00" font-size="13.89px" textLength="17.06" lengthAdjust="spacingAndGlyphs">00</text></g>
<path d="M116.5 398.5v4.9M167.5 398.5v4.9M218.5 398.5v4.9M269.5 398.5v4.9M320.5 398.5v4.9M371.5 398.5v4.9M422.5 398.5v4.9M473.5 398.5v4.9M524.5 398.5v4.9" stroke="#000" stroke-width="1.1" fill="none"/>
</svg>
</body></html>
